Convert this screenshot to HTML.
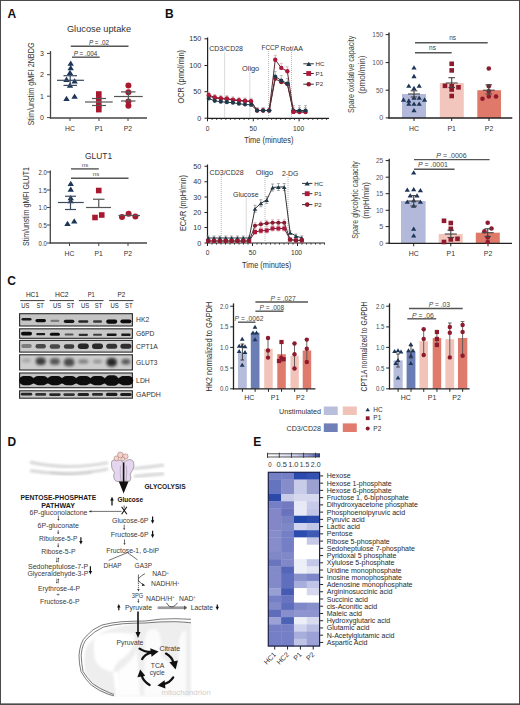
<!DOCTYPE html>
<html><head><meta charset="utf-8"><style>
html,body{margin:0;padding:0;background:#fff;}
body{width:520px;height:705px;overflow:hidden;position:relative;}
svg{position:absolute;left:0;top:0;font-family:"Liberation Sans", sans-serif;}
.frame{position:absolute;left:0;top:0;width:518px;height:703px;border:1px solid #4a4a4a;}
.fb{position:absolute;left:1px;top:703px;width:518px;height:1px;background:#8c8c8c;}
</style></head><body>
<svg width="520" height="705" viewBox="0 0 520 705">
<text x="7.60" y="17.90" font-size="12" text-anchor="start" fill="#111" font-weight="bold">A</text>
<text x="66.90" y="32.30" font-size="9" text-anchor="start" fill="#333" textLength="64.2" lengthAdjust="spacingAndGlyphs">Glucose uptake</text>
<line x1="50.50" y1="51.00" x2="50.50" y2="118.50" stroke="#444" stroke-width="1.3"/>
<line x1="49.90" y1="118.00" x2="147.00" y2="118.00" stroke="#444" stroke-width="1.3"/>
<line x1="47.00" y1="53.40" x2="50.50" y2="53.40" stroke="#444" stroke-width="1"/>
<text x="43.80" y="55.90" font-size="7" text-anchor="end" fill="#333">3</text>
<line x1="47.00" y1="74.70" x2="50.50" y2="74.70" stroke="#444" stroke-width="1"/>
<text x="43.80" y="77.20" font-size="7" text-anchor="end" fill="#333">2</text>
<line x1="47.00" y1="96.20" x2="50.50" y2="96.20" stroke="#444" stroke-width="1"/>
<text x="43.80" y="98.70" font-size="7" text-anchor="end" fill="#333">1</text>
<line x1="47.00" y1="117.60" x2="50.50" y2="117.60" stroke="#444" stroke-width="1"/>
<text x="43.80" y="120.10" font-size="7" text-anchor="end" fill="#333">0</text>
<line x1="70.00" y1="118.00" x2="70.00" y2="121.00" stroke="#444" stroke-width="1"/>
<line x1="99.00" y1="118.00" x2="99.00" y2="121.00" stroke="#444" stroke-width="1"/>
<line x1="128.00" y1="118.00" x2="128.00" y2="121.00" stroke="#444" stroke-width="1"/>
<text x="70.00" y="130.70" font-size="6.8" text-anchor="middle" fill="#333">HC</text>
<text x="99.00" y="130.70" font-size="6.8" text-anchor="middle" fill="#333">P1</text>
<text x="128.00" y="130.70" font-size="6.8" text-anchor="middle" fill="#333">P2</text>
<text x="34.30" y="84.00" font-size="8.2" text-anchor="middle" fill="#333" textLength="83" lengthAdjust="spacingAndGlyphs" transform="rotate(-90 34.30 84.00)">Stim/unstim gMFI 2NBDG</text>
<line x1="70.80" y1="46.20" x2="128.50" y2="46.20" stroke="#555" stroke-width="1.4"/>
<text x="99.00" y="45.00" font-size="6.3" text-anchor="middle" fill="#333"><tspan font-style='italic'>P</tspan> = .02</text>
<line x1="72.00" y1="57.20" x2="99.70" y2="57.20" stroke="#555" stroke-width="1.4"/>
<text x="85.50" y="55.50" font-size="6.3" text-anchor="middle" fill="#333"><tspan font-style='italic'>P</tspan> = .004</text>
<path d="M70.70 60.46L73.90 65.78L67.50 65.78Z" fill="#1d3658"/>
<path d="M70.70 64.96L73.90 70.28L67.50 70.28Z" fill="#1d3658"/>
<path d="M70.00 69.66L73.20 74.98L66.80 74.98Z" fill="#1d3658"/>
<path d="M66.50 76.56L69.70 81.88L63.30 81.88Z" fill="#1d3658"/>
<path d="M74.60 78.16L77.80 83.48L71.40 83.48Z" fill="#1d3658"/>
<path d="M70.00 82.36L73.20 87.68L66.80 87.68Z" fill="#1d3658"/>
<path d="M66.50 95.76L69.70 101.08L63.30 101.08Z" fill="#1d3658"/>
<path d="M74.60 93.46L77.80 98.78L71.40 98.78Z" fill="#1d3658"/>
<line x1="57.00" y1="80.30" x2="84.00" y2="80.30" stroke="#3a4a60" stroke-width="1.2"/>
<line x1="63.50" y1="75.70" x2="77.00" y2="75.70" stroke="#3a4a60" stroke-width="1.2"/>
<line x1="63.50" y1="85.40" x2="77.00" y2="85.40" stroke="#3a4a60" stroke-width="1.2"/>
<line x1="70.20" y1="75.70" x2="70.20" y2="85.40" stroke="#3a4a60" stroke-width="1.2"/>
<rect x="96.00" y="91.20" width="5.60" height="5.60" fill="#a8182f"/>
<rect x="96.00" y="96.20" width="5.60" height="5.60" fill="#a8182f"/>
<rect x="96.00" y="102.20" width="5.60" height="5.60" fill="#a8182f"/>
<rect x="96.00" y="106.80" width="5.60" height="5.60" fill="#a8182f"/>
<line x1="85.00" y1="102.00" x2="112.70" y2="102.00" stroke="#555" stroke-width="1.2"/>
<line x1="92.00" y1="98.50" x2="106.00" y2="98.50" stroke="#555" stroke-width="1.2"/>
<line x1="92.00" y1="105.50" x2="106.00" y2="105.50" stroke="#555" stroke-width="1.2"/>
<circle cx="128.40" cy="85.40" r="3" fill="#a8182f"/>
<circle cx="128.40" cy="92.30" r="3" fill="#a8182f"/>
<circle cx="128.40" cy="101.50" r="3" fill="#a8182f"/>
<circle cx="128.40" cy="105.70" r="3" fill="#a8182f"/>
<line x1="114.00" y1="96.50" x2="142.70" y2="96.50" stroke="#555" stroke-width="1.2"/>
<line x1="121.00" y1="91.90" x2="135.50" y2="91.90" stroke="#555" stroke-width="1.2"/>
<line x1="121.00" y1="101.00" x2="135.50" y2="101.00" stroke="#555" stroke-width="1.2"/>
<line x1="128.40" y1="91.90" x2="128.40" y2="101.00" stroke="#555" stroke-width="1.2"/>
<text x="84.90" y="158.70" font-size="9.6" text-anchor="start" fill="#333" textLength="27.2" lengthAdjust="spacingAndGlyphs">GLUT1</text>
<line x1="50.30" y1="170.50" x2="50.30" y2="243.50" stroke="#444" stroke-width="1.3"/>
<line x1="49.70" y1="243.00" x2="147.00" y2="243.00" stroke="#444" stroke-width="1.3"/>
<line x1="47.00" y1="172.00" x2="50.30" y2="172.00" stroke="#444" stroke-width="1"/>
<text x="46.90" y="174.50" font-size="7" text-anchor="end" fill="#333" textLength="8.3" lengthAdjust="spacingAndGlyphs">2.0</text>
<line x1="47.00" y1="190.00" x2="50.30" y2="190.00" stroke="#444" stroke-width="1"/>
<text x="46.90" y="192.50" font-size="7" text-anchor="end" fill="#333" textLength="8.3" lengthAdjust="spacingAndGlyphs">1.5</text>
<line x1="47.00" y1="207.50" x2="50.30" y2="207.50" stroke="#444" stroke-width="1"/>
<text x="46.90" y="210.00" font-size="7" text-anchor="end" fill="#333" textLength="8.3" lengthAdjust="spacingAndGlyphs">1.0</text>
<line x1="47.00" y1="225.00" x2="50.30" y2="225.00" stroke="#444" stroke-width="1"/>
<text x="46.90" y="227.50" font-size="7" text-anchor="end" fill="#333" textLength="8.3" lengthAdjust="spacingAndGlyphs">0.5</text>
<line x1="47.00" y1="243.00" x2="50.30" y2="243.00" stroke="#444" stroke-width="1"/>
<text x="46.90" y="245.50" font-size="7" text-anchor="end" fill="#333" textLength="8.3" lengthAdjust="spacingAndGlyphs">0.0</text>
<line x1="69.50" y1="243.00" x2="69.50" y2="246.00" stroke="#444" stroke-width="1"/>
<line x1="98.75" y1="243.00" x2="98.75" y2="246.00" stroke="#444" stroke-width="1"/>
<line x1="128.00" y1="243.00" x2="128.00" y2="246.00" stroke="#444" stroke-width="1"/>
<text x="69.50" y="256.30" font-size="6.8" text-anchor="middle" fill="#333">HC</text>
<text x="98.75" y="256.30" font-size="6.8" text-anchor="middle" fill="#333">P1</text>
<text x="128.00" y="256.30" font-size="6.8" text-anchor="middle" fill="#333">P2</text>
<text x="29.30" y="206.50" font-size="8.2" text-anchor="middle" fill="#333" textLength="79" lengthAdjust="spacingAndGlyphs" transform="rotate(-90 29.30 206.50)">Stim/unstim gMFI GLUT1</text>
<line x1="71.00" y1="168.90" x2="98.75" y2="168.90" stroke="#555" stroke-width="1.4"/>
<text x="85.00" y="167.00" font-size="6.2" text-anchor="middle" fill="#555">ns</text>
<line x1="71.00" y1="178.30" x2="128.50" y2="178.30" stroke="#555" stroke-width="1.4"/>
<text x="96.00" y="176.10" font-size="6.2" text-anchor="middle" fill="#555">ns</text>
<path d="M70.75 180.71L73.95 186.03L67.55 186.03Z" fill="#1d3658"/>
<path d="M70.75 186.46L73.95 191.78L67.55 191.78Z" fill="#1d3658"/>
<path d="M70.75 194.96L73.95 200.28L67.55 200.28Z" fill="#1d3658"/>
<path d="M70.75 197.96L73.95 203.28L67.55 203.28Z" fill="#1d3658"/>
<path d="M67.50 220.71L70.70 226.03L64.30 226.03Z" fill="#1d3658"/>
<path d="M74.25 218.21L77.45 223.53L71.05 223.53Z" fill="#1d3658"/>
<line x1="58.00" y1="202.50" x2="83.75" y2="202.50" stroke="#3a4a60" stroke-width="1.2"/>
<line x1="65.00" y1="196.25" x2="76.00" y2="196.25" stroke="#3a4a60" stroke-width="1.2"/>
<line x1="65.00" y1="209.50" x2="76.00" y2="209.50" stroke="#3a4a60" stroke-width="1.2"/>
<line x1="70.50" y1="196.25" x2="70.50" y2="209.50" stroke="#3a4a60" stroke-width="1.2"/>
<rect x="95.95" y="187.70" width="5.60" height="5.60" fill="#a8182f"/>
<rect x="92.20" y="214.70" width="5.60" height="5.60" fill="#a8182f"/>
<rect x="98.95" y="212.20" width="5.60" height="5.60" fill="#a8182f"/>
<line x1="86.00" y1="207.50" x2="111.00" y2="207.50" stroke="#555" stroke-width="1.2"/>
<line x1="93.00" y1="199.25" x2="104.50" y2="199.25" stroke="#555" stroke-width="1.2"/>
<line x1="98.75" y1="199.25" x2="98.75" y2="207.50" stroke="#555" stroke-width="1.2"/>
<circle cx="122.00" cy="217.00" r="3" fill="#a8182f"/>
<circle cx="128.60" cy="213.70" r="3" fill="#a8182f"/>
<circle cx="135.40" cy="216.50" r="3" fill="#a8182f"/>
<line x1="118.50" y1="215.50" x2="140.00" y2="215.50" stroke="#555" stroke-width="1.2"/>
<text x="165.00" y="17.50" font-size="12" text-anchor="start" fill="#111" font-weight="bold">B</text>
<line x1="207.60" y1="37.50" x2="207.60" y2="118.80" stroke="#222" stroke-width="1.2"/>
<line x1="207.00" y1="118.30" x2="329.00" y2="118.30" stroke="#222" stroke-width="1.2"/>
<line x1="204.50" y1="38.80" x2="207.60" y2="38.80" stroke="#222" stroke-width="1"/>
<text x="201.20" y="41.30" font-size="7.2" text-anchor="end" fill="#333">150</text>
<line x1="204.50" y1="65.50" x2="207.60" y2="65.50" stroke="#222" stroke-width="1"/>
<text x="201.20" y="68.00" font-size="7.2" text-anchor="end" fill="#333">100</text>
<line x1="204.50" y1="91.70" x2="207.60" y2="91.70" stroke="#222" stroke-width="1"/>
<text x="201.20" y="94.20" font-size="7.2" text-anchor="end" fill="#333">50</text>
<line x1="204.50" y1="118.20" x2="207.60" y2="118.20" stroke="#222" stroke-width="1"/>
<text x="201.20" y="120.70" font-size="7.2" text-anchor="end" fill="#333">0</text>
<line x1="207.50" y1="118.30" x2="207.50" y2="121.30" stroke="#222" stroke-width="1"/>
<line x1="212.08" y1="118.30" x2="212.08" y2="120.00" stroke="#222" stroke-width="0.8"/>
<line x1="216.66" y1="118.30" x2="216.66" y2="120.00" stroke="#222" stroke-width="0.8"/>
<line x1="221.24" y1="118.30" x2="221.24" y2="120.00" stroke="#222" stroke-width="0.8"/>
<line x1="225.82" y1="118.30" x2="225.82" y2="120.00" stroke="#222" stroke-width="0.8"/>
<line x1="230.40" y1="118.30" x2="230.40" y2="120.00" stroke="#222" stroke-width="0.8"/>
<line x1="234.98" y1="118.30" x2="234.98" y2="120.00" stroke="#222" stroke-width="0.8"/>
<line x1="239.56" y1="118.30" x2="239.56" y2="120.00" stroke="#222" stroke-width="0.8"/>
<line x1="244.14" y1="118.30" x2="244.14" y2="120.00" stroke="#222" stroke-width="0.8"/>
<line x1="248.72" y1="118.30" x2="248.72" y2="120.00" stroke="#222" stroke-width="0.8"/>
<line x1="253.30" y1="118.30" x2="253.30" y2="121.30" stroke="#222" stroke-width="1"/>
<line x1="257.88" y1="118.30" x2="257.88" y2="120.00" stroke="#222" stroke-width="0.8"/>
<line x1="262.46" y1="118.30" x2="262.46" y2="120.00" stroke="#222" stroke-width="0.8"/>
<line x1="267.04" y1="118.30" x2="267.04" y2="120.00" stroke="#222" stroke-width="0.8"/>
<line x1="271.62" y1="118.30" x2="271.62" y2="120.00" stroke="#222" stroke-width="0.8"/>
<line x1="276.20" y1="118.30" x2="276.20" y2="120.00" stroke="#222" stroke-width="0.8"/>
<line x1="280.78" y1="118.30" x2="280.78" y2="120.00" stroke="#222" stroke-width="0.8"/>
<line x1="285.36" y1="118.30" x2="285.36" y2="120.00" stroke="#222" stroke-width="0.8"/>
<line x1="289.94" y1="118.30" x2="289.94" y2="120.00" stroke="#222" stroke-width="0.8"/>
<line x1="294.52" y1="118.30" x2="294.52" y2="120.00" stroke="#222" stroke-width="0.8"/>
<line x1="299.10" y1="118.30" x2="299.10" y2="121.30" stroke="#222" stroke-width="1"/>
<line x1="303.68" y1="118.30" x2="303.68" y2="120.00" stroke="#222" stroke-width="0.8"/>
<line x1="308.26" y1="118.30" x2="308.26" y2="120.00" stroke="#222" stroke-width="0.8"/>
<line x1="312.84" y1="118.30" x2="312.84" y2="120.00" stroke="#222" stroke-width="0.8"/>
<line x1="317.42" y1="118.30" x2="317.42" y2="120.00" stroke="#222" stroke-width="0.8"/>
<line x1="322.00" y1="118.30" x2="322.00" y2="120.00" stroke="#222" stroke-width="0.8"/>
<line x1="326.58" y1="118.30" x2="326.58" y2="120.00" stroke="#222" stroke-width="0.8"/>
<text x="207.50" y="130.70" font-size="6.7" text-anchor="middle" fill="#333">0</text>
<text x="253.30" y="130.70" font-size="6.7" text-anchor="middle" fill="#333">50</text>
<text x="298.60" y="130.70" font-size="6.7" text-anchor="middle" fill="#333">100</text>
<text x="268.80" y="143.30" font-size="8.4" text-anchor="middle" fill="#333" textLength="49.3" lengthAdjust="spacingAndGlyphs">Time (minutes)</text>
<text x="184.20" y="76.70" font-size="9" text-anchor="middle" fill="#333" textLength="53.6" lengthAdjust="spacingAndGlyphs" transform="rotate(-90 184.20 76.70)">OCR (pmol/min)</text>
<line x1="224.60" y1="52.50" x2="224.60" y2="118.00" stroke="#999" stroke-width="0.7" stroke-dasharray="1,1"/>
<line x1="249.80" y1="72.50" x2="249.80" y2="118.00" stroke="#999" stroke-width="0.7" stroke-dasharray="1,1"/>
<line x1="268.60" y1="51.00" x2="268.60" y2="118.00" stroke="#999" stroke-width="0.7" stroke-dasharray="1,1"/>
<line x1="291.50" y1="52.00" x2="291.50" y2="118.00" stroke="#999" stroke-width="0.7" stroke-dasharray="1,1"/>
<text x="209.20" y="50.70" font-size="7.2" text-anchor="start" fill="#333" textLength="33.8" lengthAdjust="spacingAndGlyphs">CD3/CD28</text>
<text x="242.10" y="70.90" font-size="7.2" text-anchor="start" fill="#333" textLength="17.1" lengthAdjust="spacingAndGlyphs">Oligo</text>
<text x="261.50" y="49.90" font-size="7.2" text-anchor="start" fill="#333" textLength="17.4" lengthAdjust="spacingAndGlyphs">FCCP</text>
<text x="280.60" y="51.10" font-size="7.2" text-anchor="start" fill="#333" textLength="22.4" lengthAdjust="spacingAndGlyphs">Rot/AA</text>
<line x1="208.70" y1="95.00" x2="208.70" y2="92.20" stroke="#c9a0a8" stroke-width="0.7"/>
<line x1="207.20" y1="92.20" x2="210.20" y2="92.20" stroke="#c9a0a8" stroke-width="0.7"/>
<line x1="208.70" y1="98.50" x2="208.70" y2="96.00" stroke="#9aa" stroke-width="0.7"/>
<line x1="207.20" y1="96.00" x2="210.20" y2="96.00" stroke="#9aa" stroke-width="0.7"/>
<line x1="214.75" y1="97.30" x2="214.75" y2="94.50" stroke="#c9a0a8" stroke-width="0.7"/>
<line x1="213.25" y1="94.50" x2="216.25" y2="94.50" stroke="#c9a0a8" stroke-width="0.7"/>
<line x1="214.75" y1="100.80" x2="214.75" y2="98.30" stroke="#9aa" stroke-width="0.7"/>
<line x1="213.25" y1="98.30" x2="216.25" y2="98.30" stroke="#9aa" stroke-width="0.7"/>
<line x1="220.80" y1="98.20" x2="220.80" y2="95.40" stroke="#c9a0a8" stroke-width="0.7"/>
<line x1="219.30" y1="95.40" x2="222.30" y2="95.40" stroke="#c9a0a8" stroke-width="0.7"/>
<line x1="220.80" y1="101.70" x2="220.80" y2="99.20" stroke="#9aa" stroke-width="0.7"/>
<line x1="219.30" y1="99.20" x2="222.30" y2="99.20" stroke="#9aa" stroke-width="0.7"/>
<line x1="226.85" y1="98.50" x2="226.85" y2="95.70" stroke="#c9a0a8" stroke-width="0.7"/>
<line x1="225.35" y1="95.70" x2="228.35" y2="95.70" stroke="#c9a0a8" stroke-width="0.7"/>
<line x1="226.85" y1="102.20" x2="226.85" y2="99.70" stroke="#9aa" stroke-width="0.7"/>
<line x1="225.35" y1="99.70" x2="228.35" y2="99.70" stroke="#9aa" stroke-width="0.7"/>
<line x1="232.90" y1="99.60" x2="232.90" y2="96.80" stroke="#c9a0a8" stroke-width="0.7"/>
<line x1="231.40" y1="96.80" x2="234.40" y2="96.80" stroke="#c9a0a8" stroke-width="0.7"/>
<line x1="232.90" y1="102.70" x2="232.90" y2="100.20" stroke="#9aa" stroke-width="0.7"/>
<line x1="231.40" y1="100.20" x2="234.40" y2="100.20" stroke="#9aa" stroke-width="0.7"/>
<line x1="238.95" y1="100.20" x2="238.95" y2="97.40" stroke="#c9a0a8" stroke-width="0.7"/>
<line x1="237.45" y1="97.40" x2="240.45" y2="97.40" stroke="#c9a0a8" stroke-width="0.7"/>
<line x1="238.95" y1="103.70" x2="238.95" y2="101.20" stroke="#9aa" stroke-width="0.7"/>
<line x1="237.45" y1="101.20" x2="240.45" y2="101.20" stroke="#9aa" stroke-width="0.7"/>
<line x1="245.00" y1="100.80" x2="245.00" y2="98.00" stroke="#c9a0a8" stroke-width="0.7"/>
<line x1="243.50" y1="98.00" x2="246.50" y2="98.00" stroke="#c9a0a8" stroke-width="0.7"/>
<line x1="245.00" y1="104.50" x2="245.00" y2="102.00" stroke="#9aa" stroke-width="0.7"/>
<line x1="243.50" y1="102.00" x2="246.50" y2="102.00" stroke="#9aa" stroke-width="0.7"/>
<line x1="251.05" y1="101.10" x2="251.05" y2="98.30" stroke="#c9a0a8" stroke-width="0.7"/>
<line x1="249.55" y1="98.30" x2="252.55" y2="98.30" stroke="#c9a0a8" stroke-width="0.7"/>
<line x1="251.05" y1="104.80" x2="251.05" y2="102.30" stroke="#9aa" stroke-width="0.7"/>
<line x1="249.55" y1="102.30" x2="252.55" y2="102.30" stroke="#9aa" stroke-width="0.7"/>
<line x1="257.10" y1="110.40" x2="257.10" y2="107.60" stroke="#c9a0a8" stroke-width="0.7"/>
<line x1="255.60" y1="107.60" x2="258.60" y2="107.60" stroke="#c9a0a8" stroke-width="0.7"/>
<line x1="257.10" y1="110.50" x2="257.10" y2="108.00" stroke="#9aa" stroke-width="0.7"/>
<line x1="255.60" y1="108.00" x2="258.60" y2="108.00" stroke="#9aa" stroke-width="0.7"/>
<line x1="263.15" y1="110.40" x2="263.15" y2="107.60" stroke="#c9a0a8" stroke-width="0.7"/>
<line x1="261.65" y1="107.60" x2="264.65" y2="107.60" stroke="#c9a0a8" stroke-width="0.7"/>
<line x1="263.15" y1="110.50" x2="263.15" y2="108.00" stroke="#9aa" stroke-width="0.7"/>
<line x1="261.65" y1="108.00" x2="264.65" y2="108.00" stroke="#9aa" stroke-width="0.7"/>
<line x1="269.20" y1="110.40" x2="269.20" y2="107.60" stroke="#c9a0a8" stroke-width="0.7"/>
<line x1="267.70" y1="107.60" x2="270.70" y2="107.60" stroke="#c9a0a8" stroke-width="0.7"/>
<line x1="269.20" y1="110.50" x2="269.20" y2="108.00" stroke="#9aa" stroke-width="0.7"/>
<line x1="267.70" y1="108.00" x2="270.70" y2="108.00" stroke="#9aa" stroke-width="0.7"/>
<line x1="275.25" y1="59.80" x2="275.25" y2="55.30" stroke="#c9a0a8" stroke-width="0.7"/>
<line x1="273.75" y1="55.30" x2="276.75" y2="55.30" stroke="#c9a0a8" stroke-width="0.7"/>
<line x1="275.25" y1="76.50" x2="275.25" y2="71.50" stroke="#9aa" stroke-width="0.7"/>
<line x1="273.75" y1="71.50" x2="276.75" y2="71.50" stroke="#9aa" stroke-width="0.7"/>
<line x1="281.30" y1="67.90" x2="281.30" y2="63.40" stroke="#c9a0a8" stroke-width="0.7"/>
<line x1="279.80" y1="63.40" x2="282.80" y2="63.40" stroke="#c9a0a8" stroke-width="0.7"/>
<line x1="281.30" y1="80.50" x2="281.30" y2="75.50" stroke="#9aa" stroke-width="0.7"/>
<line x1="279.80" y1="75.50" x2="282.80" y2="75.50" stroke="#9aa" stroke-width="0.7"/>
<line x1="287.35" y1="71.30" x2="287.35" y2="66.80" stroke="#c9a0a8" stroke-width="0.7"/>
<line x1="285.85" y1="66.80" x2="288.85" y2="66.80" stroke="#c9a0a8" stroke-width="0.7"/>
<line x1="287.35" y1="83.50" x2="287.35" y2="78.50" stroke="#9aa" stroke-width="0.7"/>
<line x1="285.85" y1="78.50" x2="288.85" y2="78.50" stroke="#9aa" stroke-width="0.7"/>
<line x1="293.40" y1="111.80" x2="293.40" y2="107.30" stroke="#c9a0a8" stroke-width="0.7"/>
<line x1="291.90" y1="107.30" x2="294.90" y2="107.30" stroke="#c9a0a8" stroke-width="0.7"/>
<line x1="293.40" y1="110.50" x2="293.40" y2="105.50" stroke="#9aa" stroke-width="0.7"/>
<line x1="291.90" y1="105.50" x2="294.90" y2="105.50" stroke="#9aa" stroke-width="0.7"/>
<line x1="299.45" y1="112.00" x2="299.45" y2="107.50" stroke="#c9a0a8" stroke-width="0.7"/>
<line x1="297.95" y1="107.50" x2="300.95" y2="107.50" stroke="#c9a0a8" stroke-width="0.7"/>
<line x1="299.45" y1="110.50" x2="299.45" y2="105.50" stroke="#9aa" stroke-width="0.7"/>
<line x1="297.95" y1="105.50" x2="300.95" y2="105.50" stroke="#9aa" stroke-width="0.7"/>
<line x1="305.50" y1="112.00" x2="305.50" y2="107.50" stroke="#c9a0a8" stroke-width="0.7"/>
<line x1="304.00" y1="107.50" x2="307.00" y2="107.50" stroke="#c9a0a8" stroke-width="0.7"/>
<line x1="305.50" y1="110.50" x2="305.50" y2="105.50" stroke="#9aa" stroke-width="0.7"/>
<line x1="304.00" y1="105.50" x2="307.00" y2="105.50" stroke="#9aa" stroke-width="0.7"/>
<polyline points="208.70,98.50 214.75,100.80 220.80,101.70 226.85,102.20 232.90,102.70 238.95,103.70 245.00,104.50 251.05,104.80 257.10,110.50 263.15,110.50 269.20,110.50 275.25,76.50 281.30,80.50 287.35,83.50 293.40,110.50 299.45,110.50 305.50,110.50" fill="none" stroke="#333" stroke-width="1"/>
<polyline points="208.70,96.00 214.75,98.00 220.80,98.80 226.85,99.20 232.90,100.10 238.95,100.80 245.00,101.30 251.05,101.60 257.10,110.60 263.15,110.60 269.20,110.60 275.25,78.80 281.30,82.20 287.35,84.20 293.40,112.00 299.45,112.00 305.50,112.00" fill="none" stroke="#5a2a32" stroke-width="1"/>
<polyline points="208.70,95.00 214.75,97.30 220.80,98.20 226.85,98.50 232.90,99.60 238.95,100.20 245.00,100.80 251.05,101.10 257.10,110.40 263.15,110.40 269.20,110.40 275.25,59.80 281.30,67.90 287.35,71.30 293.40,111.80 299.45,112.00 305.50,112.00" fill="none" stroke="#5a2a32" stroke-width="1"/>
<circle cx="208.70" cy="96.00" r="2.1" fill="#8e1a30"/>
<circle cx="214.75" cy="98.00" r="2.1" fill="#8e1a30"/>
<circle cx="220.80" cy="98.80" r="2.1" fill="#8e1a30"/>
<circle cx="226.85" cy="99.20" r="2.1" fill="#8e1a30"/>
<circle cx="232.90" cy="100.10" r="2.1" fill="#8e1a30"/>
<circle cx="238.95" cy="100.80" r="2.1" fill="#8e1a30"/>
<circle cx="245.00" cy="101.30" r="2.1" fill="#8e1a30"/>
<circle cx="251.05" cy="101.60" r="2.1" fill="#8e1a30"/>
<circle cx="257.10" cy="110.60" r="2.1" fill="#8e1a30"/>
<circle cx="263.15" cy="110.60" r="2.1" fill="#8e1a30"/>
<circle cx="269.20" cy="110.60" r="2.1" fill="#8e1a30"/>
<circle cx="275.25" cy="78.80" r="2.1" fill="#8e1a30"/>
<circle cx="281.30" cy="82.20" r="2.1" fill="#8e1a30"/>
<circle cx="287.35" cy="84.20" r="2.1" fill="#8e1a30"/>
<circle cx="293.40" cy="112.00" r="2.1" fill="#8e1a30"/>
<circle cx="299.45" cy="112.00" r="2.1" fill="#8e1a30"/>
<circle cx="305.50" cy="112.00" r="2.1" fill="#8e1a30"/>
<circle cx="208.70" cy="95.00" r="2.2" fill="#b0173a"/>
<circle cx="214.75" cy="97.30" r="2.2" fill="#b0173a"/>
<circle cx="220.80" cy="98.20" r="2.2" fill="#b0173a"/>
<circle cx="226.85" cy="98.50" r="2.2" fill="#b0173a"/>
<circle cx="232.90" cy="99.60" r="2.2" fill="#b0173a"/>
<circle cx="238.95" cy="100.20" r="2.2" fill="#b0173a"/>
<circle cx="245.00" cy="100.80" r="2.2" fill="#b0173a"/>
<circle cx="251.05" cy="101.10" r="2.2" fill="#b0173a"/>
<circle cx="257.10" cy="110.40" r="2.2" fill="#b0173a"/>
<circle cx="263.15" cy="110.40" r="2.2" fill="#b0173a"/>
<circle cx="269.20" cy="110.40" r="2.2" fill="#b0173a"/>
<circle cx="275.25" cy="59.80" r="2.2" fill="#b0173a"/>
<circle cx="281.30" cy="67.90" r="2.2" fill="#b0173a"/>
<circle cx="287.35" cy="71.30" r="2.2" fill="#b0173a"/>
<circle cx="293.40" cy="111.80" r="2.2" fill="#b0173a"/>
<circle cx="299.45" cy="112.00" r="2.2" fill="#b0173a"/>
<circle cx="305.50" cy="112.00" r="2.2" fill="#b0173a"/>
<circle cx="208.70" cy="98.50" r="2.1" fill="#1d3a4c"/>
<circle cx="214.75" cy="100.80" r="2.1" fill="#1d3a4c"/>
<circle cx="220.80" cy="101.70" r="2.1" fill="#1d3a4c"/>
<circle cx="226.85" cy="102.20" r="2.1" fill="#1d3a4c"/>
<circle cx="232.90" cy="102.70" r="2.1" fill="#1d3a4c"/>
<circle cx="238.95" cy="103.70" r="2.1" fill="#1d3a4c"/>
<circle cx="245.00" cy="104.50" r="2.1" fill="#1d3a4c"/>
<circle cx="251.05" cy="104.80" r="2.1" fill="#1d3a4c"/>
<circle cx="257.10" cy="110.50" r="2.1" fill="#1d3a4c"/>
<circle cx="263.15" cy="110.50" r="2.1" fill="#1d3a4c"/>
<circle cx="269.20" cy="110.50" r="2.1" fill="#1d3a4c"/>
<circle cx="275.25" cy="76.50" r="2.1" fill="#1d3a4c"/>
<circle cx="281.30" cy="80.50" r="2.1" fill="#1d3a4c"/>
<circle cx="287.35" cy="83.50" r="2.1" fill="#1d3a4c"/>
<circle cx="293.40" cy="110.50" r="2.1" fill="#1d3a4c"/>
<circle cx="299.45" cy="110.50" r="2.1" fill="#1d3a4c"/>
<circle cx="305.50" cy="110.50" r="2.1" fill="#1d3a4c"/>
<circle cx="293.40" cy="111.80" r="2.2" fill="#b0173a"/>
<line x1="303.30" y1="63.80" x2="313.80" y2="63.80" stroke="#333" stroke-width="1"/>
<path d="M308.80 61.63L311.40 65.95L306.20 65.95Z" fill="#1d3a4c"/>
<text x="315.60" y="66.00" font-size="6.2" text-anchor="start" fill="#333">HC</text>
<line x1="303.30" y1="73.50" x2="313.80" y2="73.50" stroke="#333" stroke-width="1"/>
<rect x="306.30" y="71.10" width="4.80" height="4.80" fill="#b0173a"/>
<text x="315.60" y="75.70" font-size="6.2" text-anchor="start" fill="#333">P1</text>
<line x1="303.30" y1="84.20" x2="313.80" y2="84.20" stroke="#333" stroke-width="1"/>
<circle cx="308.70" cy="84.20" r="2.3" fill="#8e1a30"/>
<text x="315.60" y="86.40" font-size="6.2" text-anchor="start" fill="#333">P2</text>
<line x1="207.50" y1="164.50" x2="207.50" y2="243.50" stroke="#222" stroke-width="1.2"/>
<line x1="206.90" y1="243.00" x2="325.00" y2="243.00" stroke="#222" stroke-width="1.2"/>
<line x1="204.50" y1="166.25" x2="207.50" y2="166.25" stroke="#222" stroke-width="1"/>
<text x="201.20" y="168.75" font-size="7.2" text-anchor="end" fill="#333">50</text>
<line x1="204.50" y1="181.75" x2="207.50" y2="181.75" stroke="#222" stroke-width="1"/>
<text x="201.20" y="184.25" font-size="7.2" text-anchor="end" fill="#333">40</text>
<line x1="204.50" y1="197.00" x2="207.50" y2="197.00" stroke="#222" stroke-width="1"/>
<text x="201.20" y="199.50" font-size="7.2" text-anchor="end" fill="#333">30</text>
<line x1="204.50" y1="212.50" x2="207.50" y2="212.50" stroke="#222" stroke-width="1"/>
<text x="201.20" y="215.00" font-size="7.2" text-anchor="end" fill="#333">20</text>
<line x1="204.50" y1="227.50" x2="207.50" y2="227.50" stroke="#222" stroke-width="1"/>
<text x="201.20" y="230.00" font-size="7.2" text-anchor="end" fill="#333">10</text>
<line x1="204.50" y1="243.00" x2="207.50" y2="243.00" stroke="#222" stroke-width="1"/>
<text x="201.20" y="245.50" font-size="7.2" text-anchor="end" fill="#333">0</text>
<line x1="207.50" y1="243.00" x2="207.50" y2="246.00" stroke="#222" stroke-width="1"/>
<line x1="212.00" y1="243.00" x2="212.00" y2="244.70" stroke="#222" stroke-width="0.8"/>
<line x1="216.50" y1="243.00" x2="216.50" y2="244.70" stroke="#222" stroke-width="0.8"/>
<line x1="221.00" y1="243.00" x2="221.00" y2="244.70" stroke="#222" stroke-width="0.8"/>
<line x1="225.50" y1="243.00" x2="225.50" y2="244.70" stroke="#222" stroke-width="0.8"/>
<line x1="230.00" y1="243.00" x2="230.00" y2="244.70" stroke="#222" stroke-width="0.8"/>
<line x1="234.50" y1="243.00" x2="234.50" y2="244.70" stroke="#222" stroke-width="0.8"/>
<line x1="239.00" y1="243.00" x2="239.00" y2="244.70" stroke="#222" stroke-width="0.8"/>
<line x1="243.50" y1="243.00" x2="243.50" y2="244.70" stroke="#222" stroke-width="0.8"/>
<line x1="248.00" y1="243.00" x2="248.00" y2="244.70" stroke="#222" stroke-width="0.8"/>
<line x1="252.50" y1="243.00" x2="252.50" y2="246.00" stroke="#222" stroke-width="1"/>
<line x1="257.00" y1="243.00" x2="257.00" y2="244.70" stroke="#222" stroke-width="0.8"/>
<line x1="261.50" y1="243.00" x2="261.50" y2="244.70" stroke="#222" stroke-width="0.8"/>
<line x1="266.00" y1="243.00" x2="266.00" y2="244.70" stroke="#222" stroke-width="0.8"/>
<line x1="270.50" y1="243.00" x2="270.50" y2="244.70" stroke="#222" stroke-width="0.8"/>
<line x1="275.00" y1="243.00" x2="275.00" y2="244.70" stroke="#222" stroke-width="0.8"/>
<line x1="279.50" y1="243.00" x2="279.50" y2="244.70" stroke="#222" stroke-width="0.8"/>
<line x1="284.00" y1="243.00" x2="284.00" y2="244.70" stroke="#222" stroke-width="0.8"/>
<line x1="288.50" y1="243.00" x2="288.50" y2="244.70" stroke="#222" stroke-width="0.8"/>
<line x1="293.00" y1="243.00" x2="293.00" y2="244.70" stroke="#222" stroke-width="0.8"/>
<line x1="297.50" y1="243.00" x2="297.50" y2="246.00" stroke="#222" stroke-width="1"/>
<line x1="302.00" y1="243.00" x2="302.00" y2="244.70" stroke="#222" stroke-width="0.8"/>
<line x1="306.50" y1="243.00" x2="306.50" y2="244.70" stroke="#222" stroke-width="0.8"/>
<line x1="311.00" y1="243.00" x2="311.00" y2="244.70" stroke="#222" stroke-width="0.8"/>
<line x1="315.50" y1="243.00" x2="315.50" y2="244.70" stroke="#222" stroke-width="0.8"/>
<line x1="320.00" y1="243.00" x2="320.00" y2="244.70" stroke="#222" stroke-width="0.8"/>
<line x1="324.50" y1="243.00" x2="324.50" y2="244.70" stroke="#222" stroke-width="0.8"/>
<text x="207.60" y="255.40" font-size="6.7" text-anchor="middle" fill="#333">0</text>
<text x="252.50" y="255.40" font-size="6.7" text-anchor="middle" fill="#333">50</text>
<text x="296.50" y="255.40" font-size="6.7" text-anchor="middle" fill="#333">100</text>
<text x="266.70" y="268.30" font-size="8.4" text-anchor="middle" fill="#333" textLength="49.3" lengthAdjust="spacingAndGlyphs">Time (minutes)</text>
<text x="186.40" y="203.00" font-size="9" text-anchor="middle" fill="#333" textLength="56" lengthAdjust="spacingAndGlyphs" transform="rotate(-90 186.40 203.00)">ECAR (mpH/min)</text>
<line x1="221.25" y1="175.00" x2="221.25" y2="243.00" stroke="#999" stroke-width="0.7" stroke-dasharray="1,1"/>
<line x1="246.25" y1="197.50" x2="246.25" y2="243.00" stroke="#999" stroke-width="0.7" stroke-dasharray="1,1"/>
<line x1="265.00" y1="176.00" x2="265.00" y2="243.00" stroke="#999" stroke-width="0.7" stroke-dasharray="1,1"/>
<line x1="288.00" y1="177.00" x2="288.00" y2="243.00" stroke="#999" stroke-width="0.7" stroke-dasharray="1,1"/>
<text x="209.60" y="174.60" font-size="7.2" text-anchor="start" fill="#333" textLength="34" lengthAdjust="spacingAndGlyphs">CD3/CD28</text>
<text x="233.00" y="196.50" font-size="7.2" text-anchor="start" fill="#333" textLength="25.5" lengthAdjust="spacingAndGlyphs">Glucose</text>
<text x="255.80" y="174.60" font-size="7.2" text-anchor="start" fill="#333" textLength="17.3" lengthAdjust="spacingAndGlyphs">Oligo</text>
<text x="282.00" y="176.00" font-size="7.2" text-anchor="start" fill="#333" textLength="16.4" lengthAdjust="spacingAndGlyphs">2-DG</text>
<line x1="208.20" y1="238.00" x2="208.20" y2="236.00" stroke="#888" stroke-width="0.7"/>
<line x1="206.70" y1="236.00" x2="209.70" y2="236.00" stroke="#888" stroke-width="0.7"/>
<line x1="214.05" y1="238.00" x2="214.05" y2="236.00" stroke="#888" stroke-width="0.7"/>
<line x1="212.55" y1="236.00" x2="215.55" y2="236.00" stroke="#888" stroke-width="0.7"/>
<line x1="219.90" y1="238.00" x2="219.90" y2="236.00" stroke="#888" stroke-width="0.7"/>
<line x1="218.40" y1="236.00" x2="221.40" y2="236.00" stroke="#888" stroke-width="0.7"/>
<line x1="225.75" y1="238.00" x2="225.75" y2="236.00" stroke="#888" stroke-width="0.7"/>
<line x1="224.25" y1="236.00" x2="227.25" y2="236.00" stroke="#888" stroke-width="0.7"/>
<line x1="231.60" y1="238.00" x2="231.60" y2="236.00" stroke="#888" stroke-width="0.7"/>
<line x1="230.10" y1="236.00" x2="233.10" y2="236.00" stroke="#888" stroke-width="0.7"/>
<line x1="237.45" y1="238.00" x2="237.45" y2="236.00" stroke="#888" stroke-width="0.7"/>
<line x1="235.95" y1="236.00" x2="238.95" y2="236.00" stroke="#888" stroke-width="0.7"/>
<line x1="243.30" y1="238.00" x2="243.30" y2="236.00" stroke="#888" stroke-width="0.7"/>
<line x1="241.80" y1="236.00" x2="244.80" y2="236.00" stroke="#888" stroke-width="0.7"/>
<line x1="249.15" y1="238.00" x2="249.15" y2="236.00" stroke="#888" stroke-width="0.7"/>
<line x1="247.65" y1="236.00" x2="250.65" y2="236.00" stroke="#888" stroke-width="0.7"/>
<line x1="255.00" y1="208.75" x2="255.00" y2="205.25" stroke="#888" stroke-width="0.7"/>
<line x1="253.50" y1="205.25" x2="256.50" y2="205.25" stroke="#888" stroke-width="0.7"/>
<line x1="255.00" y1="208.75" x2="255.00" y2="212.25" stroke="#888" stroke-width="0.7"/>
<line x1="253.50" y1="212.25" x2="256.50" y2="212.25" stroke="#888" stroke-width="0.7"/>
<line x1="255.00" y1="225.75" x2="255.00" y2="222.75" stroke="#d0a0a8" stroke-width="0.7"/>
<line x1="253.50" y1="222.75" x2="256.50" y2="222.75" stroke="#d0a0a8" stroke-width="0.7"/>
<line x1="255.00" y1="225.75" x2="255.00" y2="228.75" stroke="#d0a0a8" stroke-width="0.7"/>
<line x1="253.50" y1="228.75" x2="256.50" y2="228.75" stroke="#d0a0a8" stroke-width="0.7"/>
<line x1="255.00" y1="232.00" x2="255.00" y2="229.50" stroke="#d0a0a8" stroke-width="0.7"/>
<line x1="253.50" y1="229.50" x2="256.50" y2="229.50" stroke="#d0a0a8" stroke-width="0.7"/>
<line x1="255.00" y1="232.00" x2="255.00" y2="234.50" stroke="#d0a0a8" stroke-width="0.7"/>
<line x1="253.50" y1="234.50" x2="256.50" y2="234.50" stroke="#d0a0a8" stroke-width="0.7"/>
<line x1="260.85" y1="203.25" x2="260.85" y2="199.75" stroke="#888" stroke-width="0.7"/>
<line x1="259.35" y1="199.75" x2="262.35" y2="199.75" stroke="#888" stroke-width="0.7"/>
<line x1="260.85" y1="203.25" x2="260.85" y2="206.75" stroke="#888" stroke-width="0.7"/>
<line x1="259.35" y1="206.75" x2="262.35" y2="206.75" stroke="#888" stroke-width="0.7"/>
<line x1="260.85" y1="224.25" x2="260.85" y2="221.25" stroke="#d0a0a8" stroke-width="0.7"/>
<line x1="259.35" y1="221.25" x2="262.35" y2="221.25" stroke="#d0a0a8" stroke-width="0.7"/>
<line x1="260.85" y1="224.25" x2="260.85" y2="227.25" stroke="#d0a0a8" stroke-width="0.7"/>
<line x1="259.35" y1="227.25" x2="262.35" y2="227.25" stroke="#d0a0a8" stroke-width="0.7"/>
<line x1="260.85" y1="230.75" x2="260.85" y2="228.25" stroke="#d0a0a8" stroke-width="0.7"/>
<line x1="259.35" y1="228.25" x2="262.35" y2="228.25" stroke="#d0a0a8" stroke-width="0.7"/>
<line x1="260.85" y1="230.75" x2="260.85" y2="233.25" stroke="#d0a0a8" stroke-width="0.7"/>
<line x1="259.35" y1="233.25" x2="262.35" y2="233.25" stroke="#d0a0a8" stroke-width="0.7"/>
<line x1="266.70" y1="200.00" x2="266.70" y2="196.50" stroke="#888" stroke-width="0.7"/>
<line x1="265.20" y1="196.50" x2="268.20" y2="196.50" stroke="#888" stroke-width="0.7"/>
<line x1="266.70" y1="200.00" x2="266.70" y2="203.50" stroke="#888" stroke-width="0.7"/>
<line x1="265.20" y1="203.50" x2="268.20" y2="203.50" stroke="#888" stroke-width="0.7"/>
<line x1="266.70" y1="223.25" x2="266.70" y2="220.25" stroke="#d0a0a8" stroke-width="0.7"/>
<line x1="265.20" y1="220.25" x2="268.20" y2="220.25" stroke="#d0a0a8" stroke-width="0.7"/>
<line x1="266.70" y1="223.25" x2="266.70" y2="226.25" stroke="#d0a0a8" stroke-width="0.7"/>
<line x1="265.20" y1="226.25" x2="268.20" y2="226.25" stroke="#d0a0a8" stroke-width="0.7"/>
<line x1="266.70" y1="230.50" x2="266.70" y2="228.00" stroke="#d0a0a8" stroke-width="0.7"/>
<line x1="265.20" y1="228.00" x2="268.20" y2="228.00" stroke="#d0a0a8" stroke-width="0.7"/>
<line x1="266.70" y1="230.50" x2="266.70" y2="233.00" stroke="#d0a0a8" stroke-width="0.7"/>
<line x1="265.20" y1="233.00" x2="268.20" y2="233.00" stroke="#d0a0a8" stroke-width="0.7"/>
<line x1="272.55" y1="187.50" x2="272.55" y2="184.00" stroke="#888" stroke-width="0.7"/>
<line x1="271.05" y1="184.00" x2="274.05" y2="184.00" stroke="#888" stroke-width="0.7"/>
<line x1="272.55" y1="187.50" x2="272.55" y2="191.00" stroke="#888" stroke-width="0.7"/>
<line x1="271.05" y1="191.00" x2="274.05" y2="191.00" stroke="#888" stroke-width="0.7"/>
<line x1="272.55" y1="222.75" x2="272.55" y2="219.75" stroke="#d0a0a8" stroke-width="0.7"/>
<line x1="271.05" y1="219.75" x2="274.05" y2="219.75" stroke="#d0a0a8" stroke-width="0.7"/>
<line x1="272.55" y1="222.75" x2="272.55" y2="225.75" stroke="#d0a0a8" stroke-width="0.7"/>
<line x1="271.05" y1="225.75" x2="274.05" y2="225.75" stroke="#d0a0a8" stroke-width="0.7"/>
<line x1="272.55" y1="228.50" x2="272.55" y2="226.00" stroke="#d0a0a8" stroke-width="0.7"/>
<line x1="271.05" y1="226.00" x2="274.05" y2="226.00" stroke="#d0a0a8" stroke-width="0.7"/>
<line x1="272.55" y1="228.50" x2="272.55" y2="231.00" stroke="#d0a0a8" stroke-width="0.7"/>
<line x1="271.05" y1="231.00" x2="274.05" y2="231.00" stroke="#d0a0a8" stroke-width="0.7"/>
<line x1="278.40" y1="187.00" x2="278.40" y2="183.50" stroke="#888" stroke-width="0.7"/>
<line x1="276.90" y1="183.50" x2="279.90" y2="183.50" stroke="#888" stroke-width="0.7"/>
<line x1="278.40" y1="187.00" x2="278.40" y2="190.50" stroke="#888" stroke-width="0.7"/>
<line x1="276.90" y1="190.50" x2="279.90" y2="190.50" stroke="#888" stroke-width="0.7"/>
<line x1="278.40" y1="222.75" x2="278.40" y2="219.75" stroke="#d0a0a8" stroke-width="0.7"/>
<line x1="276.90" y1="219.75" x2="279.90" y2="219.75" stroke="#d0a0a8" stroke-width="0.7"/>
<line x1="278.40" y1="222.75" x2="278.40" y2="225.75" stroke="#d0a0a8" stroke-width="0.7"/>
<line x1="276.90" y1="225.75" x2="279.90" y2="225.75" stroke="#d0a0a8" stroke-width="0.7"/>
<line x1="278.40" y1="228.50" x2="278.40" y2="226.00" stroke="#d0a0a8" stroke-width="0.7"/>
<line x1="276.90" y1="226.00" x2="279.90" y2="226.00" stroke="#d0a0a8" stroke-width="0.7"/>
<line x1="278.40" y1="228.50" x2="278.40" y2="231.00" stroke="#d0a0a8" stroke-width="0.7"/>
<line x1="276.90" y1="231.00" x2="279.90" y2="231.00" stroke="#d0a0a8" stroke-width="0.7"/>
<line x1="284.25" y1="187.00" x2="284.25" y2="183.50" stroke="#888" stroke-width="0.7"/>
<line x1="282.75" y1="183.50" x2="285.75" y2="183.50" stroke="#888" stroke-width="0.7"/>
<line x1="284.25" y1="187.00" x2="284.25" y2="190.50" stroke="#888" stroke-width="0.7"/>
<line x1="282.75" y1="190.50" x2="285.75" y2="190.50" stroke="#888" stroke-width="0.7"/>
<line x1="284.25" y1="222.75" x2="284.25" y2="219.75" stroke="#d0a0a8" stroke-width="0.7"/>
<line x1="282.75" y1="219.75" x2="285.75" y2="219.75" stroke="#d0a0a8" stroke-width="0.7"/>
<line x1="284.25" y1="222.75" x2="284.25" y2="225.75" stroke="#d0a0a8" stroke-width="0.7"/>
<line x1="282.75" y1="225.75" x2="285.75" y2="225.75" stroke="#d0a0a8" stroke-width="0.7"/>
<line x1="284.25" y1="228.50" x2="284.25" y2="226.00" stroke="#d0a0a8" stroke-width="0.7"/>
<line x1="282.75" y1="226.00" x2="285.75" y2="226.00" stroke="#d0a0a8" stroke-width="0.7"/>
<line x1="284.25" y1="228.50" x2="284.25" y2="231.00" stroke="#d0a0a8" stroke-width="0.7"/>
<line x1="282.75" y1="231.00" x2="285.75" y2="231.00" stroke="#d0a0a8" stroke-width="0.7"/>
<line x1="290.10" y1="232.70" x2="290.10" y2="230.70" stroke="#888" stroke-width="0.7"/>
<line x1="288.60" y1="230.70" x2="291.60" y2="230.70" stroke="#888" stroke-width="0.7"/>
<line x1="295.95" y1="236.00" x2="295.95" y2="234.00" stroke="#888" stroke-width="0.7"/>
<line x1="294.45" y1="234.00" x2="297.45" y2="234.00" stroke="#888" stroke-width="0.7"/>
<line x1="301.80" y1="237.90" x2="301.80" y2="235.90" stroke="#888" stroke-width="0.7"/>
<line x1="300.30" y1="235.90" x2="303.30" y2="235.90" stroke="#888" stroke-width="0.7"/>
<polyline points="208.20,238.00 214.05,238.00 219.90,238.00 225.75,238.00 231.60,238.00 237.45,238.00 243.30,238.00 249.15,238.00 255.00,208.75 260.85,203.25 266.70,200.00 272.55,187.50 278.40,187.00 284.25,187.00 290.10,232.70 295.95,236.00 301.80,237.90" fill="none" stroke="#333" stroke-width="1"/>
<polyline points="208.20,241.00 214.05,241.00 219.90,241.00 225.75,241.00 231.60,241.00 237.45,241.00 243.30,241.00 249.15,241.00 255.00,232.00 260.85,230.75 266.70,230.50 272.55,228.50 278.40,228.50 284.25,228.50 290.10,239.60 295.95,240.40 301.80,240.40" fill="none" stroke="#5a2a32" stroke-width="1"/>
<polyline points="208.20,241.00 214.05,241.00 219.90,241.00 225.75,241.00 231.60,241.00 237.45,241.00 243.30,241.00 249.15,241.00 255.00,225.75 260.85,224.25 266.70,223.25 272.55,222.75 278.40,222.75 284.25,222.75 290.10,239.60 295.95,240.40 301.80,240.40" fill="none" stroke="#5a2a32" stroke-width="1"/>
<path d="M208.20 236.22L210.50 240.04L205.90 240.04Z" fill="#1d3a4c"/>
<path d="M214.05 236.22L216.35 240.04L211.75 240.04Z" fill="#1d3a4c"/>
<path d="M219.90 236.22L222.20 240.04L217.60 240.04Z" fill="#1d3a4c"/>
<path d="M225.75 236.22L228.05 240.04L223.45 240.04Z" fill="#1d3a4c"/>
<path d="M231.60 236.22L233.90 240.04L229.30 240.04Z" fill="#1d3a4c"/>
<path d="M237.45 236.22L239.75 240.04L235.15 240.04Z" fill="#1d3a4c"/>
<path d="M243.30 236.22L245.60 240.04L241.00 240.04Z" fill="#1d3a4c"/>
<path d="M249.15 236.22L251.45 240.04L246.85 240.04Z" fill="#1d3a4c"/>
<path d="M255.00 206.97L257.30 210.79L252.70 210.79Z" fill="#1d3a4c"/>
<path d="M260.85 201.47L263.15 205.29L258.55 205.29Z" fill="#1d3a4c"/>
<path d="M266.70 198.22L269.00 202.04L264.40 202.04Z" fill="#1d3a4c"/>
<path d="M272.55 185.72L274.85 189.54L270.25 189.54Z" fill="#1d3a4c"/>
<path d="M278.40 185.22L280.70 189.04L276.10 189.04Z" fill="#1d3a4c"/>
<path d="M284.25 185.22L286.55 189.04L281.95 189.04Z" fill="#1d3a4c"/>
<path d="M290.10 230.91L292.40 234.74L287.80 234.74Z" fill="#1d3a4c"/>
<path d="M295.95 234.22L298.25 238.04L293.65 238.04Z" fill="#1d3a4c"/>
<path d="M301.80 236.12L304.10 239.94L299.50 239.94Z" fill="#1d3a4c"/>
<rect x="206.20" y="239.00" width="4.00" height="4.00" fill="#b0173a"/>
<rect x="212.05" y="239.00" width="4.00" height="4.00" fill="#b0173a"/>
<rect x="217.90" y="239.00" width="4.00" height="4.00" fill="#b0173a"/>
<rect x="223.75" y="239.00" width="4.00" height="4.00" fill="#b0173a"/>
<rect x="229.60" y="239.00" width="4.00" height="4.00" fill="#b0173a"/>
<rect x="235.45" y="239.00" width="4.00" height="4.00" fill="#b0173a"/>
<rect x="241.30" y="239.00" width="4.00" height="4.00" fill="#b0173a"/>
<rect x="247.15" y="239.00" width="4.00" height="4.00" fill="#b0173a"/>
<rect x="253.00" y="230.00" width="4.00" height="4.00" fill="#b0173a"/>
<rect x="258.85" y="228.75" width="4.00" height="4.00" fill="#b0173a"/>
<rect x="264.70" y="228.50" width="4.00" height="4.00" fill="#b0173a"/>
<rect x="270.55" y="226.50" width="4.00" height="4.00" fill="#b0173a"/>
<rect x="276.40" y="226.50" width="4.00" height="4.00" fill="#b0173a"/>
<rect x="282.25" y="226.50" width="4.00" height="4.00" fill="#b0173a"/>
<rect x="288.10" y="237.60" width="4.00" height="4.00" fill="#b0173a"/>
<rect x="293.95" y="238.40" width="4.00" height="4.00" fill="#b0173a"/>
<rect x="299.80" y="238.40" width="4.00" height="4.00" fill="#b0173a"/>
<circle cx="208.20" cy="241.00" r="2.1" fill="#8e1a30"/>
<circle cx="214.05" cy="241.00" r="2.1" fill="#8e1a30"/>
<circle cx="219.90" cy="241.00" r="2.1" fill="#8e1a30"/>
<circle cx="225.75" cy="241.00" r="2.1" fill="#8e1a30"/>
<circle cx="231.60" cy="241.00" r="2.1" fill="#8e1a30"/>
<circle cx="237.45" cy="241.00" r="2.1" fill="#8e1a30"/>
<circle cx="243.30" cy="241.00" r="2.1" fill="#8e1a30"/>
<circle cx="249.15" cy="241.00" r="2.1" fill="#8e1a30"/>
<circle cx="255.00" cy="225.75" r="2.1" fill="#8e1a30"/>
<circle cx="260.85" cy="224.25" r="2.1" fill="#8e1a30"/>
<circle cx="266.70" cy="223.25" r="2.1" fill="#8e1a30"/>
<circle cx="272.55" cy="222.75" r="2.1" fill="#8e1a30"/>
<circle cx="278.40" cy="222.75" r="2.1" fill="#8e1a30"/>
<circle cx="284.25" cy="222.75" r="2.1" fill="#8e1a30"/>
<circle cx="290.10" cy="239.60" r="2.1" fill="#8e1a30"/>
<circle cx="295.95" cy="240.40" r="2.1" fill="#8e1a30"/>
<circle cx="301.80" cy="240.40" r="2.1" fill="#8e1a30"/>
<line x1="302.00" y1="183.40" x2="312.40" y2="183.40" stroke="#333" stroke-width="1"/>
<path d="M307.20 181.23L309.80 185.55L304.60 185.55Z" fill="#1d3a4c"/>
<text x="314.20" y="185.60" font-size="6.2" text-anchor="start" fill="#333">HC</text>
<line x1="302.00" y1="193.70" x2="312.40" y2="193.70" stroke="#333" stroke-width="1"/>
<rect x="304.80" y="191.30" width="4.80" height="4.80" fill="#b0173a"/>
<text x="314.20" y="195.90" font-size="6.2" text-anchor="start" fill="#333">P1</text>
<line x1="302.00" y1="204.60" x2="312.40" y2="204.60" stroke="#333" stroke-width="1"/>
<circle cx="307.20" cy="204.60" r="2.3" fill="#8e1a30"/>
<text x="314.20" y="206.80" font-size="6.2" text-anchor="start" fill="#333">P2</text>
<rect x="402.00" y="94.00" width="24.00" height="24.00" fill="#b3b9da"/>
<rect x="439.80" y="83.00" width="24.00" height="35.00" fill="#f2c6bc"/>
<rect x="477.30" y="90.20" width="23.70" height="27.80" fill="#df7a6a"/>
<line x1="389.00" y1="32.50" x2="389.00" y2="118.60" stroke="#222" stroke-width="1.3"/>
<line x1="388.40" y1="118.00" x2="512.30" y2="118.00" stroke="#222" stroke-width="1.3"/>
<line x1="385.70" y1="34.60" x2="389.00" y2="34.60" stroke="#222" stroke-width="1"/>
<text x="383.30" y="37.10" font-size="7.2" text-anchor="end" fill="#555" textLength="11.01" lengthAdjust="spacingAndGlyphs">150</text>
<line x1="385.70" y1="62.60" x2="389.00" y2="62.60" stroke="#222" stroke-width="1"/>
<text x="383.30" y="65.10" font-size="7.2" text-anchor="end" fill="#555" textLength="11.01" lengthAdjust="spacingAndGlyphs">100</text>
<line x1="385.70" y1="90.20" x2="389.00" y2="90.20" stroke="#222" stroke-width="1"/>
<text x="383.30" y="92.70" font-size="7.2" text-anchor="end" fill="#555" textLength="7.34" lengthAdjust="spacingAndGlyphs">50</text>
<line x1="385.70" y1="117.90" x2="389.00" y2="117.90" stroke="#222" stroke-width="1"/>
<text x="383.30" y="120.40" font-size="7.2" text-anchor="end" fill="#555">0</text>
<line x1="414.00" y1="118.00" x2="414.00" y2="121.00" stroke="#222" stroke-width="1"/>
<line x1="451.70" y1="118.00" x2="451.70" y2="121.00" stroke="#222" stroke-width="1"/>
<line x1="489.00" y1="118.00" x2="489.00" y2="121.00" stroke="#222" stroke-width="1"/>
<text x="414.00" y="131.10" font-size="6.9" text-anchor="middle" fill="#333">HC</text>
<text x="451.70" y="131.10" font-size="6.9" text-anchor="middle" fill="#333">P1</text>
<text x="489.00" y="131.10" font-size="6.9" text-anchor="middle" fill="#333">P2</text>
<text x="354.20" y="74.30" font-size="8.8" text-anchor="middle" fill="#444" textLength="77.4" lengthAdjust="spacingAndGlyphs" transform="rotate(-90 354.20 74.30)">Spare oxidative capacity</text>
<text x="365.20" y="74.60" font-size="8.8" text-anchor="middle" fill="#444" textLength="38.3" lengthAdjust="spacingAndGlyphs" transform="rotate(-90 365.20 74.60)">(pmol/min)</text>
<line x1="415.00" y1="42.70" x2="487.70" y2="42.70" stroke="#555" stroke-width="1.4"/>
<text x="452.70" y="39.60" font-size="6.5" text-anchor="middle" fill="#444">ns</text>
<line x1="415.00" y1="52.70" x2="451.70" y2="52.70" stroke="#555" stroke-width="1.4"/>
<text x="432.50" y="49.80" font-size="6.5" text-anchor="middle" fill="#444">ns</text>
<path d="M414.00 65.23L416.60 69.55L411.40 69.55Z" fill="#1d3658"/>
<path d="M414.00 73.83L416.60 78.15L411.40 78.15Z" fill="#1d3658"/>
<path d="M408.80 83.53L411.40 87.85L406.20 87.85Z" fill="#1d3658"/>
<path d="M414.00 85.83L416.60 90.15L411.40 90.15Z" fill="#1d3658"/>
<path d="M419.20 83.53L421.80 87.85L416.60 87.85Z" fill="#1d3658"/>
<path d="M403.50 97.33L406.10 101.65L400.90 101.65Z" fill="#1d3658"/>
<path d="M408.80 98.33L411.40 102.65L406.20 102.65Z" fill="#1d3658"/>
<path d="M414.00 95.43L416.60 99.75L411.40 99.75Z" fill="#1d3658"/>
<path d="M419.20 95.43L421.80 99.75L416.60 99.75Z" fill="#1d3658"/>
<path d="M424.60 97.33L427.20 101.65L422.00 101.65Z" fill="#1d3658"/>
<path d="M408.80 101.53L411.40 105.85L406.20 105.85Z" fill="#1d3658"/>
<path d="M419.20 101.53L421.80 105.85L416.60 105.85Z" fill="#1d3658"/>
<path d="M414.00 101.53L416.60 105.85L411.40 105.85Z" fill="#1d3658"/>
<path d="M414.00 107.93L416.60 112.25L411.40 112.25Z" fill="#1d3658"/>
<line x1="408.00" y1="94.00" x2="420.00" y2="94.00" stroke="#444" stroke-width="1.1"/>
<line x1="410.70" y1="90.80" x2="417.30" y2="90.80" stroke="#444" stroke-width="1.1"/>
<line x1="410.70" y1="97.00" x2="417.30" y2="97.00" stroke="#444" stroke-width="1.1"/>
<line x1="414.00" y1="90.80" x2="414.00" y2="97.00" stroke="#444" stroke-width="1.1"/>
<rect x="449.40" y="61.50" width="4.60" height="4.60" fill="#8e1a2e"/>
<rect x="449.40" y="68.10" width="4.60" height="4.60" fill="#8e1a2e"/>
<rect x="442.70" y="83.50" width="4.60" height="4.60" fill="#8e1a2e"/>
<rect x="449.40" y="84.00" width="4.60" height="4.60" fill="#8e1a2e"/>
<rect x="456.20" y="85.00" width="4.60" height="4.60" fill="#8e1a2e"/>
<rect x="449.40" y="87.20" width="4.60" height="4.60" fill="#8e1a2e"/>
<rect x="449.40" y="93.70" width="4.60" height="4.60" fill="#8e1a2e"/>
<line x1="445.70" y1="83.00" x2="457.70" y2="83.00" stroke="#444" stroke-width="1.1"/>
<line x1="448.40" y1="77.70" x2="455.00" y2="77.70" stroke="#444" stroke-width="1.1"/>
<line x1="448.40" y1="87.50" x2="455.00" y2="87.50" stroke="#444" stroke-width="1.1"/>
<line x1="451.70" y1="77.70" x2="451.70" y2="87.50" stroke="#444" stroke-width="1.1"/>
<circle cx="488.80" cy="68.50" r="2.3" fill="#8e1a2e"/>
<circle cx="488.80" cy="86.30" r="2.3" fill="#8e1a2e"/>
<circle cx="488.80" cy="91.20" r="2.3" fill="#8e1a2e"/>
<circle cx="482.50" cy="98.80" r="2.3" fill="#8e1a2e"/>
<circle cx="488.80" cy="96.50" r="2.3" fill="#8e1a2e"/>
<circle cx="496.00" cy="96.50" r="2.3" fill="#8e1a2e"/>
<line x1="482.80" y1="90.20" x2="494.80" y2="90.20" stroke="#444" stroke-width="1.1"/>
<line x1="485.50" y1="84.80" x2="492.10" y2="84.80" stroke="#444" stroke-width="1.1"/>
<line x1="485.50" y1="94.00" x2="492.10" y2="94.00" stroke="#444" stroke-width="1.1"/>
<line x1="488.80" y1="84.80" x2="488.80" y2="94.00" stroke="#444" stroke-width="1.1"/>
<rect x="401.00" y="201.00" width="24.60" height="42.30" fill="#b3b9da"/>
<rect x="438.70" y="234.00" width="24.00" height="9.30" fill="#f2c6bc"/>
<rect x="475.80" y="232.70" width="24.00" height="10.60" fill="#df7a6a"/>
<line x1="389.20" y1="158.70" x2="389.20" y2="243.90" stroke="#222" stroke-width="1.3"/>
<line x1="388.60" y1="243.30" x2="512.00" y2="243.30" stroke="#222" stroke-width="1.3"/>
<line x1="385.70" y1="160.60" x2="389.20" y2="160.60" stroke="#222" stroke-width="1"/>
<text x="383.30" y="163.10" font-size="7.2" text-anchor="end" fill="#555" textLength="7.34" lengthAdjust="spacingAndGlyphs">25</text>
<line x1="385.70" y1="177.20" x2="389.20" y2="177.20" stroke="#222" stroke-width="1"/>
<text x="383.30" y="179.70" font-size="7.2" text-anchor="end" fill="#555" textLength="7.34" lengthAdjust="spacingAndGlyphs">20</text>
<line x1="385.70" y1="193.70" x2="389.20" y2="193.70" stroke="#222" stroke-width="1"/>
<text x="383.30" y="196.20" font-size="7.2" text-anchor="end" fill="#555" textLength="7.34" lengthAdjust="spacingAndGlyphs">15</text>
<line x1="385.70" y1="210.30" x2="389.20" y2="210.30" stroke="#222" stroke-width="1"/>
<text x="383.30" y="212.80" font-size="7.2" text-anchor="end" fill="#555" textLength="7.34" lengthAdjust="spacingAndGlyphs">10</text>
<line x1="385.70" y1="226.60" x2="389.20" y2="226.60" stroke="#222" stroke-width="1"/>
<text x="383.30" y="229.10" font-size="7.2" text-anchor="end" fill="#555">5</text>
<line x1="385.70" y1="243.20" x2="389.20" y2="243.20" stroke="#222" stroke-width="1"/>
<text x="383.30" y="245.70" font-size="7.2" text-anchor="end" fill="#555">0</text>
<line x1="413.70" y1="243.30" x2="413.70" y2="246.30" stroke="#222" stroke-width="1"/>
<line x1="450.80" y1="243.30" x2="450.80" y2="246.30" stroke="#222" stroke-width="1"/>
<line x1="488.00" y1="243.30" x2="488.00" y2="246.30" stroke="#222" stroke-width="1"/>
<text x="413.70" y="255.90" font-size="6.9" text-anchor="middle" fill="#333">HC</text>
<text x="450.80" y="255.90" font-size="6.9" text-anchor="middle" fill="#333">P1</text>
<text x="488.00" y="255.90" font-size="6.9" text-anchor="middle" fill="#333">P2</text>
<text x="358.20" y="200.00" font-size="8.8" text-anchor="middle" fill="#444" textLength="77.4" lengthAdjust="spacingAndGlyphs" transform="rotate(-90 358.20 200.00)">Spare glycolytic capacity</text>
<text x="369.00" y="200.40" font-size="8.8" text-anchor="middle" fill="#444" textLength="36.8" lengthAdjust="spacingAndGlyphs" transform="rotate(-90 369.00 200.40)">(mpH/min)</text>
<line x1="414.00" y1="159.60" x2="489.60" y2="159.60" stroke="#555" stroke-width="1.4"/>
<text x="451.50" y="158.20" font-size="6.5" text-anchor="middle" fill="#444" textLength="30.4" lengthAdjust="spacingAndGlyphs"><tspan font-style='italic'>P</tspan> = .0006</text>
<line x1="414.00" y1="169.20" x2="454.60" y2="169.20" stroke="#555" stroke-width="1.4"/>
<text x="433.00" y="167.30" font-size="6.5" text-anchor="middle" fill="#444" textLength="30" lengthAdjust="spacingAndGlyphs"><tspan font-style='italic'>P</tspan> = .0001</text>
<path d="M413.70 170.23L416.30 174.55L411.10 174.55Z" fill="#1d3658"/>
<path d="M407.30 187.53L409.90 191.85L404.70 191.85Z" fill="#1d3658"/>
<path d="M413.70 186.93L416.30 191.25L411.10 191.25Z" fill="#1d3658"/>
<path d="M420.40 187.93L423.00 192.25L417.80 192.25Z" fill="#1d3658"/>
<path d="M410.20 193.13L412.80 197.45L407.60 197.45Z" fill="#1d3658"/>
<path d="M417.00 193.13L419.60 197.45L414.40 197.45Z" fill="#1d3658"/>
<path d="M407.30 199.53L409.90 203.85L404.70 203.85Z" fill="#1d3658"/>
<path d="M413.70 197.93L416.30 202.25L411.10 202.25Z" fill="#1d3658"/>
<path d="M420.40 199.53L423.00 203.85L417.80 203.85Z" fill="#1d3658"/>
<path d="M413.70 203.53L416.30 207.85L411.10 207.85Z" fill="#1d3658"/>
<path d="M413.70 226.53L416.30 230.85L411.10 230.85Z" fill="#1d3658"/>
<path d="M413.70 233.13L416.30 237.45L411.10 237.45Z" fill="#1d3658"/>
<line x1="407.70" y1="201.00" x2="419.70" y2="201.00" stroke="#444" stroke-width="1.1"/>
<line x1="410.40" y1="195.60" x2="417.00" y2="195.60" stroke="#444" stroke-width="1.1"/>
<line x1="410.40" y1="206.00" x2="417.00" y2="206.00" stroke="#444" stroke-width="1.1"/>
<line x1="413.70" y1="195.60" x2="413.70" y2="206.00" stroke="#444" stroke-width="1.1"/>
<rect x="441.70" y="218.50" width="4.60" height="4.60" fill="#8e1a2e"/>
<rect x="448.50" y="220.70" width="4.60" height="4.60" fill="#8e1a2e"/>
<rect x="448.50" y="226.50" width="4.60" height="4.60" fill="#8e1a2e"/>
<rect x="448.50" y="237.10" width="4.60" height="4.60" fill="#8e1a2e"/>
<rect x="455.20" y="236.50" width="4.60" height="4.60" fill="#8e1a2e"/>
<rect x="441.70" y="239.70" width="4.60" height="4.60" fill="#8e1a2e"/>
<line x1="444.80" y1="234.00" x2="456.80" y2="234.00" stroke="#444" stroke-width="1.1"/>
<line x1="447.50" y1="230.20" x2="454.10" y2="230.20" stroke="#444" stroke-width="1.1"/>
<line x1="447.50" y1="237.50" x2="454.10" y2="237.50" stroke="#444" stroke-width="1.1"/>
<line x1="450.80" y1="230.20" x2="450.80" y2="237.50" stroke="#444" stroke-width="1.1"/>
<circle cx="487.70" cy="222.70" r="2.3" fill="#8e1a2e"/>
<circle cx="491.50" cy="228.50" r="2.3" fill="#8e1a2e"/>
<circle cx="484.40" cy="231.20" r="2.3" fill="#8e1a2e"/>
<circle cx="487.70" cy="237.50" r="2.3" fill="#8e1a2e"/>
<circle cx="487.70" cy="242.00" r="2.3" fill="#8e1a2e"/>
<line x1="481.70" y1="232.70" x2="493.70" y2="232.70" stroke="#444" stroke-width="1.1"/>
<line x1="484.40" y1="228.80" x2="491.00" y2="228.80" stroke="#444" stroke-width="1.1"/>
<line x1="484.40" y1="236.50" x2="491.00" y2="236.50" stroke="#444" stroke-width="1.1"/>
<line x1="487.70" y1="228.80" x2="487.70" y2="236.50" stroke="#444" stroke-width="1.1"/>
<text x="7.30" y="285.20" font-size="12" text-anchor="start" fill="#111" font-weight="bold">C</text>
<defs><filter id="bl1" x="-50%" y="-50%" width="200%" height="200%"><feGaussianBlur stdDeviation="0.7"/></filter><filter id="bl2" x="-50%" y="-50%" width="200%" height="200%"><feGaussianBlur stdDeviation="1.4"/></filter></defs>
<text x="32.40" y="297.30" font-size="7.4" text-anchor="middle" fill="#222" textLength="13" lengthAdjust="spacingAndGlyphs">HC1</text>
<line x1="20.20" y1="300.60" x2="44.60" y2="300.60" stroke="#222" stroke-width="0.9"/>
<text x="61.80" y="297.30" font-size="7.4" text-anchor="middle" fill="#222" textLength="13.5" lengthAdjust="spacingAndGlyphs">HC2</text>
<line x1="49.60" y1="300.60" x2="74.00" y2="300.60" stroke="#222" stroke-width="0.9"/>
<text x="91.15" y="297.30" font-size="7.4" text-anchor="middle" fill="#222" textLength="7" lengthAdjust="spacingAndGlyphs">P1</text>
<line x1="78.80" y1="300.60" x2="103.50" y2="300.60" stroke="#222" stroke-width="0.9"/>
<text x="121.35" y="297.30" font-size="7.4" text-anchor="middle" fill="#222" textLength="7.7" lengthAdjust="spacingAndGlyphs">P2</text>
<line x1="109.20" y1="300.60" x2="133.50" y2="300.60" stroke="#222" stroke-width="0.9"/>
<text x="25.30" y="308.40" font-size="7.2" text-anchor="middle" fill="#222" textLength="8.2" lengthAdjust="spacingAndGlyphs">US</text>
<text x="40.20" y="308.40" font-size="7.2" text-anchor="middle" fill="#222" textLength="7.4" lengthAdjust="spacingAndGlyphs">ST</text>
<text x="57.20" y="308.40" font-size="7.2" text-anchor="middle" fill="#222" textLength="8.2" lengthAdjust="spacingAndGlyphs">US</text>
<text x="70.50" y="308.40" font-size="7.2" text-anchor="middle" fill="#222" textLength="7.4" lengthAdjust="spacingAndGlyphs">ST</text>
<text x="85.10" y="308.40" font-size="7.2" text-anchor="middle" fill="#222" textLength="8.2" lengthAdjust="spacingAndGlyphs">US</text>
<text x="98.50" y="308.40" font-size="7.2" text-anchor="middle" fill="#222" textLength="7.4" lengthAdjust="spacingAndGlyphs">ST</text>
<text x="114.70" y="308.40" font-size="7.2" text-anchor="middle" fill="#222" textLength="8.2" lengthAdjust="spacingAndGlyphs">US</text>
<text x="128.80" y="308.40" font-size="7.2" text-anchor="middle" fill="#222" textLength="7.4" lengthAdjust="spacingAndGlyphs">ST</text>
<rect x="19.6" y="313.70" width="112.8" height="12.30" fill="#c4c4c4" stroke="#2a2a2a" stroke-width="1.1"/>
<rect x="19.6" y="328.80" width="112.8" height="9.50" fill="#c8c8c8" stroke="#2a2a2a" stroke-width="1.1"/>
<rect x="19.6" y="340.40" width="112.8" height="11.70" fill="#cacaca" stroke="#2a2a2a" stroke-width="1.1"/>
<rect x="19.6" y="354.80" width="112.8" height="15.20" fill="#cdcdcd" stroke="#2a2a2a" stroke-width="1.1"/>
<rect x="19.6" y="373.00" width="112.8" height="14.70" fill="#c2c2c2" stroke="#2a2a2a" stroke-width="1.1"/>
<rect x="19.6" y="390.80" width="112.8" height="7.40" fill="#c6c6c6" stroke="#2a2a2a" stroke-width="1.1"/>
<rect x="21.50" y="318.00" width="10.00" height="2.60" rx="1.30" fill="#1c1c1c" fill-opacity="1.0" filter="url(#bl1)"/>
<rect x="35.45" y="319.00" width="10.50" height="3.20" rx="1.60" fill="#0e0e0e" fill-opacity="1.0" filter="url(#bl1)"/>
<rect x="50.40" y="319.70" width="9.00" height="2.20" rx="1.10" fill="#7a7a7a" fill-opacity="1.0" filter="url(#bl1)"/>
<rect x="63.85" y="319.70" width="10.50" height="3.20" rx="1.60" fill="#141414" fill-opacity="1.0" filter="url(#bl1)"/>
<rect x="78.30" y="320.20" width="10.00" height="2.60" rx="1.30" fill="#262626" fill-opacity="1.0" filter="url(#bl1)"/>
<rect x="93.00" y="320.30" width="9.00" height="2.40" rx="1.20" fill="#3a3a3a" fill-opacity="1.0" filter="url(#bl1)"/>
<rect x="106.20" y="319.50" width="11.00" height="4.20" rx="2.10" fill="#0a0a0a" fill-opacity="1.0" filter="url(#bl1)"/>
<rect x="120.40" y="319.40" width="11.00" height="3.80" rx="1.90" fill="#0a0a0a" fill-opacity="1.0" filter="url(#bl1)"/>
<rect x="21.00" y="331.70" width="11.00" height="3.80" rx="1.90" fill="#0a0a0a" fill-opacity="1.0" filter="url(#bl1)"/>
<rect x="36.20" y="333.10" width="9.00" height="2.20" rx="1.10" fill="#1e1e1e" fill-opacity="1.0" filter="url(#bl1)"/>
<rect x="49.90" y="332.70" width="10.00" height="3.00" rx="1.50" fill="#0e0e0e" fill-opacity="1.0" filter="url(#bl1)"/>
<rect x="64.60" y="333.60" width="9.00" height="2.00" rx="1.00" fill="#555" fill-opacity="1.0" filter="url(#bl1)"/>
<rect x="78.55" y="333.70" width="9.50" height="2.20" rx="1.10" fill="#2e2e2e" fill-opacity="1.0" filter="url(#bl1)"/>
<rect x="93.00" y="333.80" width="9.00" height="2.00" rx="1.00" fill="#3c3c3c" fill-opacity="1.0" filter="url(#bl1)"/>
<rect x="106.70" y="333.50" width="10.00" height="2.60" rx="1.30" fill="#141414" fill-opacity="1.0" filter="url(#bl1)"/>
<rect x="121.15" y="333.60" width="9.50" height="2.40" rx="1.20" fill="#1c1c1c" fill-opacity="1.0" filter="url(#bl1)"/>
<rect x="21.25" y="344.00" width="10.50" height="4.00" rx="2.00" fill="#7d7d7d" fill-opacity="1.0" filter="url(#bl1)"/>
<rect x="35.45" y="343.95" width="10.50" height="4.50" rx="2.25" fill="#4a4a4a" fill-opacity="1.0" filter="url(#bl1)"/>
<rect x="49.65" y="344.15" width="10.50" height="4.50" rx="2.25" fill="#484848" fill-opacity="1.0" filter="url(#bl1)"/>
<rect x="63.85" y="344.15" width="10.50" height="4.50" rx="2.25" fill="#3e3e3e" fill-opacity="1.0" filter="url(#bl1)"/>
<rect x="77.80" y="343.55" width="11.00" height="5.50" rx="2.75" fill="#262626" fill-opacity="1.0" filter="url(#bl1)"/>
<rect x="92.00" y="343.55" width="11.00" height="5.50" rx="2.75" fill="#2a2a2a" fill-opacity="1.0" filter="url(#bl1)"/>
<rect x="106.20" y="343.80" width="11.00" height="5.00" rx="2.50" fill="#333" fill-opacity="1.0" filter="url(#bl1)"/>
<rect x="120.40" y="343.80" width="11.00" height="5.00" rx="2.50" fill="#2e2e2e" fill-opacity="1.0" filter="url(#bl1)"/>
<rect x="22.00" y="358.50" width="9.00" height="4.00" rx="2.00" fill="#a6a6a6" fill-opacity="1.0" filter="url(#bl2)"/>
<rect x="35.70" y="357.45" width="10.00" height="7.50" rx="3.75" fill="#3a3a3a" fill-opacity="1.0" filter="url(#bl2)"/>
<rect x="49.90" y="358.25" width="10.00" height="6.50" rx="3.25" fill="#555" fill-opacity="1.0" filter="url(#bl2)"/>
<rect x="63.85" y="358.30" width="10.50" height="8.00" rx="4.00" fill="#4a4a4a" fill-opacity="1.0" filter="url(#bl2)"/>
<rect x="78.30" y="359.50" width="10.00" height="4.00" rx="2.00" fill="#7a7a7a" fill-opacity="1.0" filter="url(#bl2)"/>
<rect x="93.00" y="359.75" width="9.00" height="3.50" rx="1.75" fill="#8f8f8f" fill-opacity="1.0" filter="url(#bl2)"/>
<rect x="106.45" y="358.05" width="10.50" height="8.50" rx="4.25" fill="#262626" fill-opacity="1.0" filter="url(#bl2)"/>
<rect x="121.40" y="359.05" width="9.00" height="5.50" rx="2.75" fill="#5a5a5a" fill-opacity="1.0" filter="url(#bl2)"/>
<rect x="21.00" y="378.20" width="110.50" height="5.40" fill="#151515" filter="url(#bl1)"/>
<rect x="19.20" y="376.00" width="14.60" height="9.20" rx="4.60" fill="#0a0a0a" fill-opacity="1.0" filter="url(#bl1)"/>
<rect x="33.40" y="376.00" width="14.60" height="9.20" rx="4.60" fill="#0a0a0a" fill-opacity="1.0" filter="url(#bl1)"/>
<rect x="47.60" y="376.00" width="14.60" height="9.20" rx="4.60" fill="#0a0a0a" fill-opacity="1.0" filter="url(#bl1)"/>
<rect x="61.80" y="376.00" width="14.60" height="9.20" rx="4.60" fill="#0a0a0a" fill-opacity="1.0" filter="url(#bl1)"/>
<rect x="76.00" y="376.00" width="14.60" height="9.20" rx="4.60" fill="#0a0a0a" fill-opacity="1.0" filter="url(#bl1)"/>
<rect x="90.20" y="376.00" width="14.60" height="9.20" rx="4.60" fill="#0a0a0a" fill-opacity="1.0" filter="url(#bl1)"/>
<rect x="104.40" y="375.35" width="14.60" height="10.50" rx="5.25" fill="#0a0a0a" fill-opacity="1.0" filter="url(#bl1)"/>
<rect x="118.60" y="376.00" width="14.60" height="9.20" rx="4.60" fill="#0a0a0a" fill-opacity="1.0" filter="url(#bl1)"/>
<rect x="20.75" y="392.80" width="11.50" height="2.80" rx="1.40" fill="#262626" fill-opacity="1.0" filter="url(#bl1)"/>
<rect x="35.20" y="393.10" width="11.00" height="2.60" rx="1.30" fill="#333" fill-opacity="1.0" filter="url(#bl1)"/>
<rect x="49.15" y="393.20" width="11.50" height="2.80" rx="1.40" fill="#262626" fill-opacity="1.0" filter="url(#bl1)"/>
<rect x="63.35" y="393.30" width="11.50" height="2.60" rx="1.30" fill="#333" fill-opacity="1.0" filter="url(#bl1)"/>
<rect x="77.55" y="392.90" width="11.50" height="3.00" rx="1.50" fill="#222" fill-opacity="1.0" filter="url(#bl1)"/>
<rect x="92.00" y="393.10" width="11.00" height="2.60" rx="1.30" fill="#2a2a2a" fill-opacity="1.0" filter="url(#bl1)"/>
<rect x="105.95" y="392.80" width="11.50" height="3.20" rx="1.60" fill="#1a1a1a" fill-opacity="1.0" filter="url(#bl1)"/>
<rect x="120.15" y="392.90" width="11.50" height="3.00" rx="1.50" fill="#1e1e1e" fill-opacity="1.0" filter="url(#bl1)"/>
<text x="136.10" y="322.45" font-size="7.3" text-anchor="start" fill="#333" textLength="13.1" lengthAdjust="spacingAndGlyphs">HK2</text>
<text x="136.10" y="335.75" font-size="7.3" text-anchor="start" fill="#333" textLength="18.4" lengthAdjust="spacingAndGlyphs">G6PD</text>
<text x="136.10" y="348.65" font-size="7.3" text-anchor="start" fill="#333" textLength="21.7" lengthAdjust="spacingAndGlyphs">CPT1A</text>
<text x="136.10" y="364.65" font-size="7.3" text-anchor="start" fill="#333" textLength="21.4" lengthAdjust="spacingAndGlyphs">GLUT3</text>
<text x="136.10" y="382.75" font-size="7.3" text-anchor="start" fill="#333" textLength="13.7" lengthAdjust="spacingAndGlyphs">LDH</text>
<text x="136.10" y="396.85" font-size="7.3" text-anchor="start" fill="#333" textLength="24.8" lengthAdjust="spacingAndGlyphs">GAPDH</text>
<rect x="238.00" y="352.80" width="8.80" height="36.00" fill="#b6bcdc"/>
<rect x="250.80" y="332.70" width="8.70" height="56.10" fill="#6a7db5"/>
<rect x="264.20" y="348.80" width="8.50" height="40.00" fill="#f2c4b9"/>
<rect x="277.30" y="354.20" width="8.50" height="34.60" fill="#df7b6c"/>
<rect x="290.50" y="355.80" width="8.30" height="33.00" fill="#f2c4b9"/>
<rect x="302.70" y="350.50" width="8.50" height="38.30" fill="#df7b6c"/>
<line x1="233.50" y1="303.40" x2="233.50" y2="389.40" stroke="#222" stroke-width="1.3"/>
<line x1="232.90" y1="388.80" x2="315.40" y2="388.80" stroke="#222" stroke-width="1.3"/>
<line x1="230.20" y1="306.20" x2="233.50" y2="306.20" stroke="#222" stroke-width="1"/>
<text x="228.30" y="308.70" font-size="7.2" text-anchor="end" fill="#444" textLength="8.4" lengthAdjust="spacingAndGlyphs">2.0</text>
<line x1="230.20" y1="326.90" x2="233.50" y2="326.90" stroke="#222" stroke-width="1"/>
<text x="228.30" y="329.40" font-size="7.2" text-anchor="end" fill="#444" textLength="8.4" lengthAdjust="spacingAndGlyphs">1.5</text>
<line x1="230.20" y1="347.40" x2="233.50" y2="347.40" stroke="#222" stroke-width="1"/>
<text x="228.30" y="349.90" font-size="7.2" text-anchor="end" fill="#444" textLength="8.4" lengthAdjust="spacingAndGlyphs">1.0</text>
<line x1="230.20" y1="368.00" x2="233.50" y2="368.00" stroke="#222" stroke-width="1"/>
<text x="228.30" y="370.50" font-size="7.2" text-anchor="end" fill="#444" textLength="8.4" lengthAdjust="spacingAndGlyphs">0.5</text>
<line x1="230.20" y1="388.80" x2="233.50" y2="388.80" stroke="#222" stroke-width="1"/>
<text x="228.30" y="391.30" font-size="7.2" text-anchor="end" fill="#444" textLength="8.4" lengthAdjust="spacingAndGlyphs">0.0</text>
<line x1="242.40" y1="388.80" x2="242.40" y2="391.80" stroke="#222" stroke-width="1"/>
<line x1="255.15" y1="388.80" x2="255.15" y2="391.80" stroke="#222" stroke-width="1"/>
<line x1="268.45" y1="388.80" x2="268.45" y2="391.80" stroke="#222" stroke-width="1"/>
<line x1="281.55" y1="388.80" x2="281.55" y2="391.80" stroke="#222" stroke-width="1"/>
<line x1="294.65" y1="388.80" x2="294.65" y2="391.80" stroke="#222" stroke-width="1"/>
<line x1="306.95" y1="388.80" x2="306.95" y2="391.80" stroke="#222" stroke-width="1"/>
<text x="249.20" y="400.30" font-size="7" text-anchor="middle" fill="#333">HC</text>
<text x="275.00" y="400.30" font-size="7" text-anchor="middle" fill="#333">P1</text>
<text x="300.40" y="400.30" font-size="7" text-anchor="middle" fill="#333">P2</text>
<text x="211.80" y="346.50" font-size="9.2" text-anchor="middle" fill="#333" textLength="90" lengthAdjust="spacingAndGlyphs" transform="rotate(-90 211.80 346.50)">HK2 normalized to GAPDH</text>
<line x1="238.00" y1="322.20" x2="255.40" y2="322.20" stroke="#555" stroke-width="1.4"/>
<text x="249.00" y="320.90" font-size="6.6" text-anchor="middle" fill="#444" textLength="28.9" lengthAdjust="spacingAndGlyphs"><tspan font-style='italic'>P</tspan> = .0062</text>
<line x1="255.40" y1="311.20" x2="283.50" y2="311.20" stroke="#555" stroke-width="1.4"/>
<text x="271.80" y="309.90" font-size="6.6" text-anchor="middle" fill="#444" textLength="24.7" lengthAdjust="spacingAndGlyphs"><tspan font-style='italic'>P</tspan> = .008</text>
<line x1="255.40" y1="302.00" x2="308.00" y2="302.00" stroke="#555" stroke-width="1.4"/>
<text x="283.10" y="300.70" font-size="6.6" text-anchor="middle" fill="#444" textLength="25.4" lengthAdjust="spacingAndGlyphs"><tspan font-style='italic'>P</tspan> = .027</text>
<line x1="268.00" y1="338.00" x2="268.00" y2="357.60" stroke="#555" stroke-width="0.9"/>
<line x1="266.20" y1="338.00" x2="269.80" y2="338.00" stroke="#555" stroke-width="0.9"/>
<line x1="266.20" y1="357.60" x2="269.80" y2="357.60" stroke="#555" stroke-width="0.9"/>
<circle cx="268.00" cy="338.00" r="2.2" fill="#8e1a2e"/>
<circle cx="268.00" cy="350.50" r="2.2" fill="#8e1a2e"/>
<circle cx="268.00" cy="357.60" r="2.2" fill="#8e1a2e"/>
<line x1="281.50" y1="342.00" x2="281.50" y2="361.00" stroke="#555" stroke-width="0.9"/>
<line x1="279.70" y1="342.00" x2="283.30" y2="342.00" stroke="#555" stroke-width="0.9"/>
<line x1="279.70" y1="361.00" x2="283.30" y2="361.00" stroke="#555" stroke-width="0.9"/>
<rect x="279.40" y="339.90" width="4.20" height="4.20" fill="#8e1a2e"/>
<line x1="294.50" y1="343.50" x2="294.50" y2="368.50" stroke="#555" stroke-width="0.9"/>
<line x1="292.70" y1="343.50" x2="296.30" y2="343.50" stroke="#555" stroke-width="0.9"/>
<line x1="292.70" y1="368.50" x2="296.30" y2="368.50" stroke="#555" stroke-width="0.9"/>
<circle cx="294.50" cy="343.50" r="2.2" fill="#8e1a2e"/>
<circle cx="294.50" cy="354.20" r="2.2" fill="#8e1a2e"/>
<circle cx="294.50" cy="368.50" r="2.2" fill="#8e1a2e"/>
<line x1="306.80" y1="339.60" x2="306.80" y2="362.00" stroke="#555" stroke-width="0.9"/>
<line x1="305.00" y1="339.60" x2="308.60" y2="339.60" stroke="#555" stroke-width="0.9"/>
<line x1="305.00" y1="362.00" x2="308.60" y2="362.00" stroke="#555" stroke-width="0.9"/>
<circle cx="306.80" cy="339.60" r="2.2" fill="#8e1a2e"/>
<circle cx="306.80" cy="348.80" r="2.2" fill="#8e1a2e"/>
<circle cx="306.80" cy="362.00" r="2.2" fill="#8e1a2e"/>
<path d="M242.20 336.72L244.60 340.71L239.80 340.71Z" fill="#1d3658"/>
<path d="M239.20 343.72L241.60 347.71L236.80 347.71Z" fill="#1d3658"/>
<path d="M242.20 343.72L244.60 347.71L239.80 347.71Z" fill="#1d3658"/>
<path d="M245.00 344.22L247.40 348.21L242.60 348.21Z" fill="#1d3658"/>
<path d="M239.20 348.92L241.60 352.91L236.80 352.91Z" fill="#1d3658"/>
<path d="M245.00 350.02L247.40 354.01L242.60 354.01Z" fill="#1d3658"/>
<path d="M242.20 362.72L244.60 366.71L239.80 366.71Z" fill="#1d3658"/>
<line x1="242.40" y1="344.00" x2="242.40" y2="360.00" stroke="#333" stroke-width="0.9"/>
<line x1="240.60" y1="344.00" x2="244.20" y2="344.00" stroke="#333" stroke-width="0.9"/>
<line x1="240.60" y1="360.00" x2="244.20" y2="360.00" stroke="#333" stroke-width="0.9"/>
<path d="M255.00 324.72L257.40 328.71L252.60 328.71Z" fill="#1d3658"/>
<path d="M253.00 330.42L255.40 334.41L250.60 334.41Z" fill="#1d3658"/>
<path d="M256.50 330.42L258.90 334.41L254.10 334.41Z" fill="#1d3658"/>
<path d="M255.00 337.32L257.40 341.31L252.60 341.31Z" fill="#1d3658"/>
<rect x="276.90" y="358.90" width="4.20" height="4.20" fill="#8e1a2e"/>
<rect x="281.50" y="357.10" width="4.20" height="4.20" fill="#8e1a2e"/>
<circle cx="281.20" cy="357.50" r="2.0" fill="#8e1a2e"/>
<rect x="393.50" y="360.40" width="9.20" height="28.40" fill="#b6bcdc"/>
<rect x="406.60" y="351.80" width="8.80" height="37.00" fill="#6a7db5"/>
<rect x="419.50" y="341.20" width="8.50" height="47.60" fill="#f2c4b9"/>
<rect x="432.70" y="338.00" width="8.50" height="50.80" fill="#df7b6c"/>
<rect x="445.40" y="339.20" width="8.80" height="49.60" fill="#f2c4b9"/>
<rect x="458.00" y="338.00" width="9.30" height="50.80" fill="#df7b6c"/>
<line x1="389.50" y1="303.40" x2="389.50" y2="389.40" stroke="#222" stroke-width="1.3"/>
<line x1="388.90" y1="388.80" x2="469.60" y2="388.80" stroke="#222" stroke-width="1.3"/>
<line x1="386.20" y1="306.20" x2="389.50" y2="306.20" stroke="#222" stroke-width="1"/>
<text x="384.30" y="308.70" font-size="7.2" text-anchor="end" fill="#444" textLength="8.4" lengthAdjust="spacingAndGlyphs">2.0</text>
<line x1="386.20" y1="326.90" x2="389.50" y2="326.90" stroke="#222" stroke-width="1"/>
<text x="384.30" y="329.40" font-size="7.2" text-anchor="end" fill="#444" textLength="8.4" lengthAdjust="spacingAndGlyphs">1.5</text>
<line x1="386.20" y1="347.40" x2="389.50" y2="347.40" stroke="#222" stroke-width="1"/>
<text x="384.30" y="349.90" font-size="7.2" text-anchor="end" fill="#444" textLength="8.4" lengthAdjust="spacingAndGlyphs">1.0</text>
<line x1="386.20" y1="368.00" x2="389.50" y2="368.00" stroke="#222" stroke-width="1"/>
<text x="384.30" y="370.50" font-size="7.2" text-anchor="end" fill="#444" textLength="8.4" lengthAdjust="spacingAndGlyphs">0.5</text>
<line x1="386.20" y1="388.80" x2="389.50" y2="388.80" stroke="#222" stroke-width="1"/>
<text x="384.30" y="391.30" font-size="7.2" text-anchor="end" fill="#444" textLength="8.4" lengthAdjust="spacingAndGlyphs">0.0</text>
<line x1="398.10" y1="388.80" x2="398.10" y2="391.80" stroke="#222" stroke-width="1"/>
<line x1="411.00" y1="388.80" x2="411.00" y2="391.80" stroke="#222" stroke-width="1"/>
<line x1="423.75" y1="388.80" x2="423.75" y2="391.80" stroke="#222" stroke-width="1"/>
<line x1="436.95" y1="388.80" x2="436.95" y2="391.80" stroke="#222" stroke-width="1"/>
<line x1="449.80" y1="388.80" x2="449.80" y2="391.80" stroke="#222" stroke-width="1"/>
<line x1="462.65" y1="388.80" x2="462.65" y2="391.80" stroke="#222" stroke-width="1"/>
<text x="405.70" y="400.30" font-size="7" text-anchor="middle" fill="#333">HC</text>
<text x="432.00" y="400.30" font-size="7" text-anchor="middle" fill="#333">P1</text>
<text x="456.50" y="400.30" font-size="7" text-anchor="middle" fill="#333">P2</text>
<text x="366.80" y="346.50" font-size="9.2" text-anchor="middle" fill="#333" textLength="90" lengthAdjust="spacingAndGlyphs" transform="rotate(-90 366.80 346.50)">CPT1A normalized to GAPDH</text>
<line x1="407.30" y1="318.80" x2="436.20" y2="318.80" stroke="#555" stroke-width="1.4"/>
<text x="422.90" y="317.50" font-size="6.6" text-anchor="middle" fill="#444" textLength="21.8" lengthAdjust="spacingAndGlyphs"><tspan font-style='italic'>P</tspan> = .06</text>
<line x1="409.00" y1="308.50" x2="462.70" y2="308.50" stroke="#555" stroke-width="1.4"/>
<text x="439.40" y="307.20" font-size="6.6" text-anchor="middle" fill="#444" textLength="21.2" lengthAdjust="spacingAndGlyphs"><tspan font-style='italic'>P</tspan> = .03</text>
<line x1="423.70" y1="329.20" x2="423.70" y2="355.00" stroke="#555" stroke-width="0.9"/>
<line x1="421.90" y1="329.20" x2="425.50" y2="329.20" stroke="#555" stroke-width="0.9"/>
<line x1="421.90" y1="355.00" x2="425.50" y2="355.00" stroke="#555" stroke-width="0.9"/>
<circle cx="423.70" cy="329.20" r="2.2" fill="#8e1a2e"/>
<circle cx="423.70" cy="338.90" r="2.2" fill="#8e1a2e"/>
<circle cx="423.70" cy="355.00" r="2.2" fill="#8e1a2e"/>
<line x1="436.90" y1="332.00" x2="436.90" y2="345.00" stroke="#555" stroke-width="0.9"/>
<line x1="435.10" y1="332.00" x2="438.70" y2="332.00" stroke="#555" stroke-width="0.9"/>
<line x1="435.10" y1="345.00" x2="438.70" y2="345.00" stroke="#555" stroke-width="0.9"/>
<rect x="434.80" y="329.90" width="4.20" height="4.20" fill="#8e1a2e"/>
<rect x="434.80" y="336.80" width="4.20" height="4.20" fill="#8e1a2e"/>
<rect x="434.80" y="342.90" width="4.20" height="4.20" fill="#8e1a2e"/>
<line x1="449.80" y1="323.00" x2="449.80" y2="357.40" stroke="#555" stroke-width="0.9"/>
<line x1="448.00" y1="323.00" x2="451.60" y2="323.00" stroke="#555" stroke-width="0.9"/>
<line x1="448.00" y1="357.40" x2="451.60" y2="357.40" stroke="#555" stroke-width="0.9"/>
<circle cx="449.80" cy="327.00" r="2.2" fill="#8e1a2e"/>
<circle cx="449.80" cy="332.70" r="2.2" fill="#8e1a2e"/>
<circle cx="449.80" cy="357.40" r="2.2" fill="#8e1a2e"/>
<line x1="462.60" y1="321.60" x2="462.60" y2="355.80" stroke="#555" stroke-width="0.9"/>
<line x1="460.80" y1="321.60" x2="464.40" y2="321.60" stroke="#555" stroke-width="0.9"/>
<line x1="460.80" y1="355.80" x2="464.40" y2="355.80" stroke="#555" stroke-width="0.9"/>
<circle cx="462.60" cy="325.00" r="2.2" fill="#8e1a2e"/>
<circle cx="462.60" cy="332.00" r="2.2" fill="#8e1a2e"/>
<circle cx="462.60" cy="355.80" r="2.2" fill="#8e1a2e"/>
<path d="M394.60 348.92L397.00 352.91L392.20 352.91Z" fill="#1d3658"/>
<path d="M398.00 348.22L400.40 352.21L395.60 352.21Z" fill="#1d3658"/>
<path d="M401.00 349.52L403.40 353.51L398.60 353.51Z" fill="#1d3658"/>
<path d="M398.00 358.12L400.40 362.11L395.60 362.11Z" fill="#1d3658"/>
<path d="M395.80 361.12L398.20 365.11L393.40 365.11Z" fill="#1d3658"/>
<path d="M398.00 375.42L400.40 379.41L395.60 379.41Z" fill="#1d3658"/>
<line x1="398.00" y1="354.00" x2="398.00" y2="367.00" stroke="#333" stroke-width="0.9"/>
<line x1="396.20" y1="354.00" x2="399.80" y2="354.00" stroke="#333" stroke-width="0.9"/>
<line x1="396.20" y1="367.00" x2="399.80" y2="367.00" stroke="#333" stroke-width="0.9"/>
<path d="M410.80 341.92L413.20 345.91L408.40 345.91Z" fill="#1d3658"/>
<path d="M408.50 348.22L410.90 352.21L406.10 352.21Z" fill="#1d3658"/>
<path d="M413.00 348.22L415.40 352.21L410.60 352.21Z" fill="#1d3658"/>
<path d="M410.80 353.52L413.20 357.51L408.40 357.51Z" fill="#1d3658"/>
<path d="M410.80 361.12L413.20 365.11L408.40 365.11Z" fill="#1d3658"/>
<line x1="411.00" y1="346.00" x2="411.00" y2="358.00" stroke="#333" stroke-width="0.9"/>
<line x1="409.20" y1="346.00" x2="412.80" y2="346.00" stroke="#333" stroke-width="0.9"/>
<line x1="409.20" y1="358.00" x2="412.80" y2="358.00" stroke="#333" stroke-width="0.9"/>
<text x="321.00" y="413.70" font-size="7.3" text-anchor="end" fill="#333" textLength="42" lengthAdjust="spacingAndGlyphs">Unstimulated</text>
<text x="321.00" y="431.10" font-size="7.3" text-anchor="end" fill="#333" textLength="34.5" lengthAdjust="spacingAndGlyphs">CD3/CD28</text>
<rect x="323.80" y="406.50" width="13.90" height="8.50" fill="#b9bedc"/>
<rect x="342.80" y="406.50" width="14.00" height="8.50" fill="#f0c2b8"/>
<rect x="323.80" y="423.40" width="13.90" height="8.60" fill="#6e80b6"/>
<rect x="342.80" y="423.40" width="14.00" height="8.60" fill="#e07b6d"/>
<path d="M367.70 407.71L369.90 411.37L365.50 411.37Z" fill="#1d3658"/>
<rect x="365.80" y="416.30" width="3.80" height="3.80" fill="#8e1a2e"/>
<circle cx="367.70" cy="428.50" r="2" fill="#8e1a2e"/>
<text x="373.30" y="411.60" font-size="6.5" text-anchor="start" fill="#333">HC</text>
<text x="373.30" y="420.40" font-size="6.5" text-anchor="start" fill="#333">P1</text>
<text x="373.30" y="430.70" font-size="6.5" text-anchor="start" fill="#333">P2</text>
<text x="7.60" y="446.20" font-size="12" text-anchor="start" fill="#111" font-weight="bold">D</text>
<defs><filter id="mb" x="-10%" y="-50%" width="120%" height="200%"><feGaussianBlur stdDeviation="0.8"/></filter></defs>
<path d="M30 462.1 Q68 470.5 108 462.8" fill="none" stroke="#d9d9d9" stroke-width="3.2" filter="url(#mb)"/>
<path d="M30 470.6 Q68 477 108 469" fill="none" stroke="#d9d9d9" stroke-width="3.2" filter="url(#mb)"/>
<path d="M134 468.5 Q150 467 164 465" fill="none" stroke="#d9d9d9" stroke-width="3.2" filter="url(#mb)"/>
<path d="M134 476.3 Q150 475 164 473.6" fill="none" stroke="#d9d9d9" stroke-width="3.2" filter="url(#mb)"/>
<path d="M50 472.6 Q68 476 92 472.6" fill="none" stroke="#b9b9b9" stroke-width="0.8" filter="url(#mb)"/>
<path d="M112.3 460.7 Q111.2 462 111.5 463.4 Q111.5 466 111.9 468 Q112.6 470 113.5 471.1 Q114.6 472.4 114.2 473.4 Q113.4 475.5 113.8 477.2 Q114.2 479.5 115 480.3 Q116 481.4 117.3 481.5 L129.6 481.2 Q130.8 479.5 130.8 477.2 Q130.2 475.5 130.4 474.2 Q131 472.5 131.9 471.1 Q133.2 470 133.5 468 Q134.2 465.5 133.8 463.4 Q133.6 461.5 132.7 460.7 Q131.5 459.6 129.6 459.5 Q126 460 123.5 462.6 Q121 460 117.3 459.5 Q114 459.5 112.3 460.7Z" fill="#e3d6ee" stroke="#6a6a6a" stroke-width="0.55"/>
<path d="M120.4 465.7 Q119.8 473 121 481.2 M126.4 465.7 Q127.2 473 126 481.2" fill="none" stroke="#8a7a8a" stroke-width="0.45"/>
<circle cx="116.5" cy="458.4" r="2.5" fill="#f3d2cb" stroke="#9a6a6a" stroke-width="0.5"/>
<circle cx="120.4" cy="455.0" r="2.9" fill="#f3d2cb" stroke="#9a6a6a" stroke-width="0.5"/>
<circle cx="125.4" cy="456.5" r="2.7" fill="#f3d2cb" stroke="#9a6a6a" stroke-width="0.5"/>
<circle cx="122.8" cy="459.0" r="2.0" fill="#f3d2cb" stroke="#9a6a6a" stroke-width="0.5"/>
<line x1="123.60" y1="462.50" x2="123.60" y2="482.50" stroke="#111" stroke-width="1.6"/>
<path d="M118.8 481.6 L128.5 481.6 L123.6 493.4Z" fill="#111"/>
<text x="144.40" y="488.80" font-size="7" text-anchor="start" fill="#1a1a1a" font-weight="bold" textLength="41.2" lengthAdjust="spacingAndGlyphs">GLYCOLYSIS</text>
<text x="20.50" y="500.00" font-size="7" text-anchor="start" fill="#1a1a1a" font-weight="bold" textLength="75.7" lengthAdjust="spacingAndGlyphs">PENTOSE-PHOSPHATE</text>
<text x="41.20" y="507.50" font-size="7" text-anchor="start" fill="#1a1a1a" font-weight="bold" textLength="33.8" lengthAdjust="spacingAndGlyphs">PATHWAY</text>
<text x="117.50" y="502.20" font-size="7" text-anchor="start" fill="#111" font-weight="bold" textLength="25.5" lengthAdjust="spacingAndGlyphs">Glucose</text>
<line x1="112.00" y1="505.50" x2="112.00" y2="499.50" stroke="#111" stroke-width="1.3"/>
<path d="M110.20 500.58L113.80 500.58L112.00 496.80Z" fill="#111"/>
<path d="M121.6 506.8 Q124.2 510.5 126.9 514.2 M126.9 506.8 Q124.2 510.5 121.6 514.2" fill="none" stroke="#1a1a1a" stroke-width="1.1"/>
<line x1="124.20" y1="505.50" x2="124.20" y2="508.50" stroke="#222" stroke-width="0.7"/>
<line x1="121.50" y1="511.40" x2="90.50" y2="511.40" stroke="#333" stroke-width="0.7"/>
<path d="M88.6 511.4 L91.4 510.3 L91.4 512.5Z" fill="#333"/>
<text x="29.50" y="515.05" font-size="7.0" text-anchor="start" fill="#3a3a3a" textLength="58.0" lengthAdjust="spacingAndGlyphs">6P-gluconolactone</text>
<text x="112.00" y="522.65" font-size="7.0" text-anchor="start" fill="#3a3a3a" textLength="36.5" lengthAdjust="spacingAndGlyphs">Glucose-6P</text>
<line x1="152.60" y1="516.50" x2="152.60" y2="521.25" stroke="#111" stroke-width="1.2"/>
<path d="M150.90 520.23L154.30 520.23L152.60 523.80Z" fill="#111"/>
<line x1="124.20" y1="524.60" x2="124.20" y2="528.68" stroke="#333" stroke-width="0.7"/>
<path d="M123.10 528.24L125.30 528.24L124.20 530.00Z" fill="#333"/>
<text x="110.80" y="536.75" font-size="7.0" text-anchor="start" fill="#3a3a3a" textLength="37.7" lengthAdjust="spacingAndGlyphs">Fructose-6P</text>
<line x1="152.60" y1="530.80" x2="152.60" y2="535.45" stroke="#111" stroke-width="1.2"/>
<path d="M150.90 534.43L154.30 534.43L152.60 538.00Z" fill="#111"/>
<line x1="124.50" y1="539.40" x2="124.50" y2="543.68" stroke="#333" stroke-width="0.7"/>
<path d="M123.40 543.24L125.60 543.24L124.50 545.00Z" fill="#333"/>
<text x="106.30" y="552.85" font-size="7.0" text-anchor="start" fill="#3a3a3a" textLength="52.7" lengthAdjust="spacingAndGlyphs">Fructose-1, 6-biP</text>
<line x1="127.40" y1="552.60" x2="108.70" y2="560.40" stroke="#333" stroke-width="0.7"/>
<line x1="127.40" y1="552.60" x2="137.50" y2="559.80" stroke="#333" stroke-width="0.7"/>
<text x="103.50" y="568.15" font-size="7.0" text-anchor="start" fill="#3a3a3a" textLength="18.1" lengthAdjust="spacingAndGlyphs">DHAP</text>
<text x="134.60" y="568.15" font-size="7.0" text-anchor="start" fill="#3a3a3a" textLength="17.4" lengthAdjust="spacingAndGlyphs">GA3P</text>
<line x1="138.40" y1="574.50" x2="138.40" y2="582.50" stroke="#333" stroke-width="0.75"/>
<path d="M138.4 578.8 Q141 575.5 144.9 573.7" fill="none" stroke="#333" stroke-width="0.75"/>
<path d="M138.4 580.4 Q140.5 583.5 143.2 584.6" fill="none" stroke="#333" stroke-width="0.75"/>
<path d="M142.6 583.2 L145.2 585.6 L141.9 585.9Z" fill="#222"/>
<line x1="138.40" y1="583.00" x2="138.40" y2="589.50" stroke="#333" stroke-width="0.75" stroke-dasharray="1.2,0.8"/>
<path d="M137.2 589 L139.6 589 L138.4 591.6Z" fill="#333"/>
<text x="152.20" y="576.10" font-size="6.8" text-anchor="start" fill="#3a3a3a">NAD<tspan font-size='4.3' dy='-2.6'>+</tspan></text>
<text x="151.00" y="586.40" font-size="6.8" text-anchor="start" fill="#3a3a3a">NADH/H<tspan font-size='4.3' dy='-2.6'>+</tspan></text>
<text x="131.70" y="597.85" font-size="7.0" text-anchor="start" fill="#3a3a3a" textLength="11.5" lengthAdjust="spacingAndGlyphs">3PG</text>
<line x1="138.40" y1="598.80" x2="138.40" y2="601.68" stroke="#333" stroke-width="0.7"/>
<path d="M137.30 601.24L139.50 601.24L138.40 603.00Z" fill="#333"/>
<text x="146.00" y="600.60" font-size="6.8" text-anchor="start" fill="#3a3a3a">NADH/H<tspan font-size='4.3' dy='-2.6'>+</tspan></text>
<text x="179.00" y="600.60" font-size="6.8" text-anchor="start" fill="#3a3a3a">NAD<tspan font-size='4.3' dy='-2.6'>+</tspan></text>
<text x="125.00" y="609.95" font-size="7.0" text-anchor="start" fill="#3a3a3a" textLength="27" lengthAdjust="spacingAndGlyphs">Pyruvate</text>
<line x1="118.80" y1="610.20" x2="118.80" y2="606.55" stroke="#111" stroke-width="1.2"/>
<path d="M117.10 607.57L120.50 607.57L118.80 604.00Z" fill="#111"/>
<rect x="157.60" y="606.40" width="28.70" height="2.70" fill="#9a9a9a"/>
<path d="M184 605.6 L187 607.75 L184 609.9Z" fill="#555"/>
<path d="M166.4 602.8 Q169 607.5 172 607 Q175 606.5 177.5 602.8" fill="none" stroke="#333" stroke-width="0.75"/>
<text x="190.80" y="609.95" font-size="7.0" text-anchor="start" fill="#3a3a3a" textLength="22.1" lengthAdjust="spacingAndGlyphs">Lactate</text>
<line x1="217.30" y1="604.40" x2="217.30" y2="607.75" stroke="#111" stroke-width="1.2"/>
<path d="M215.60 606.73L219.00 606.73L217.30 610.30Z" fill="#111"/>
<text x="37.50" y="528.15" font-size="7.0" text-anchor="start" fill="#3a3a3a" textLength="41.3" lengthAdjust="spacingAndGlyphs">6P-gluconate</text>
<line x1="58.40" y1="515.50" x2="58.40" y2="519.38" stroke="#333" stroke-width="0.7"/>
<path d="M57.30 518.94L59.50 518.94L58.40 520.70Z" fill="#333"/>
<line x1="58.20" y1="530.20" x2="58.20" y2="532.98" stroke="#333" stroke-width="0.7"/>
<path d="M57.10 532.54L59.30 532.54L58.20 534.30Z" fill="#333"/>
<text x="39.10" y="541.25" font-size="7.0" text-anchor="start" fill="#3a3a3a" textLength="38.2" lengthAdjust="spacingAndGlyphs">Ribulose-5-P</text>
<line x1="80.90" y1="537.20" x2="80.90" y2="542.05" stroke="#111" stroke-width="1.2"/>
<path d="M79.20 541.03L82.60 541.03L80.90 544.60Z" fill="#111"/>
<line x1="58.20" y1="543.30" x2="58.20" y2="546.28" stroke="#333" stroke-width="0.7"/>
<path d="M57.10 545.84L59.30 545.84L58.20 547.60Z" fill="#333"/>
<text x="41.20" y="554.15" font-size="7.0" text-anchor="start" fill="#3a3a3a" textLength="34.3" lengthAdjust="spacingAndGlyphs">Ribose-5-P</text>
<line x1="56.80" y1="557.50" x2="56.80" y2="561.32" stroke="#333" stroke-width="0.6"/>
<path d="M55.90 560.96L57.70 560.96L56.80 562.40Z" fill="#333"/>
<line x1="58.40" y1="562.40" x2="58.40" y2="558.58" stroke="#333" stroke-width="0.6"/>
<path d="M57.50 558.94L59.30 558.94L58.40 557.50Z" fill="#333"/>
<text x="28.00" y="569.05" font-size="7.0" text-anchor="start" fill="#3a3a3a" textLength="60.3" lengthAdjust="spacingAndGlyphs">Sedoheptulose-7-P</text>
<text x="27.40" y="576.15" font-size="7.0" text-anchor="start" fill="#3a3a3a" textLength="60.9" lengthAdjust="spacingAndGlyphs">Glyceraldehyde-3-P</text>
<line x1="90.40" y1="566.30" x2="90.40" y2="572.05" stroke="#111" stroke-width="1.2"/>
<path d="M88.70 571.03L92.10 571.03L90.40 574.60Z" fill="#111"/>
<line x1="56.80" y1="578.60" x2="56.80" y2="582.32" stroke="#333" stroke-width="0.6"/>
<path d="M55.90 581.96L57.70 581.96L56.80 583.40Z" fill="#333"/>
<line x1="58.40" y1="583.40" x2="58.40" y2="579.68" stroke="#333" stroke-width="0.6"/>
<path d="M57.50 580.04L59.30 580.04L58.40 578.60Z" fill="#333"/>
<text x="38.00" y="591.25" font-size="7.0" text-anchor="start" fill="#3a3a3a" textLength="42" lengthAdjust="spacingAndGlyphs">Erythrose-4-P</text>
<text x="58.00" y="596.40" font-size="6" text-anchor="middle" fill="#3a3a3a">+</text>
<text x="40.00" y="604.25" font-size="7.0" text-anchor="start" fill="#3a3a3a" textLength="39.5" lengthAdjust="spacingAndGlyphs">Fructose-6-P</text>
<defs><filter id="mt" x="-20%" y="-20%" width="140%" height="140%"><feGaussianBlur stdDeviation="1.2"/></filter></defs>
<path d="M84 660 Q84 645 93.7 639.5 Q100 633 107.5 630 Q120 625.5 135 623.7 Q150 621.2 165 621.2 Q180 621.5 191 622.5 L191 696 L112 696 Q92 690 85 672Z" fill="#eeeeee" filter="url(#mt)"/>
<path d="M95.2 636 Q110 630 134.2 634 Q136 650 120 660 Q115 664 113 672 L116 696 L121 696 L119 672 Q102 672.9 95 660 Q92.5 647 95.2 636Z" fill="#ffffff" filter="url(#mt)"/>
<path d="M119 670 Q132 662 137 650 L140 696 L118 696Z" fill="#fdfdfd" filter="url(#mt)"/>
<path d="M144 696 L145 640 Q146 629 153 629 Q160 629 161 640 L161 656 Q170 664 178 670 L179 640 Q181 630 186 631 L186 696Z" fill="#fbfbfb" filter="url(#mt)"/>
<path d="M79 655.4 Q80 642 85.8 636.5 Q92 629 102 625 Q112 622.5 122 621.7 Q135 621 145 621 Q160 618.5 175 618.7 Q184 619 191 619.3" fill="none" stroke="#444" stroke-width="0.7"/>
<path d="M79 655.4 Q79 664 81 671.5 Q85 679 91.2 685 Q99 691 108.6 694.4 L114 695.8" fill="none" stroke="#444" stroke-width="0.7"/>
<path d="M81.2 655.4 Q82 643 87.8 637.9 Q94 631.5 103.3 627.1 Q113 624.5 123.5 623.7 Q135 623 145 623 Q160 621.5 175 621.7 Q184 622 191 622.8" fill="none" stroke="#444" stroke-width="0.7"/>
<path d="M81.2 655.4 Q81.5 664 83 671.5 Q87 678 92.5 683.6 Q100 689 110 693 L114 694.4" fill="none" stroke="#444" stroke-width="0.7"/>
<line x1="138.00" y1="611.50" x2="138.00" y2="634.00" stroke="#111" stroke-width="1.6"/>
<path d="M135.5 632 L140.5 632 L138 638Z" fill="#111"/>
<text x="116.60" y="645.45" font-size="7.0" text-anchor="start" fill="#3a3a3a" textLength="26.7" lengthAdjust="spacingAndGlyphs">Pyruvate</text>
<text x="159.40" y="650.60" font-size="7.6" text-anchor="start" fill="#3a3a3a" textLength="20.8" lengthAdjust="spacingAndGlyphs">Citrate</text>
<text x="150.80" y="668.00" font-size="7.8" text-anchor="start" fill="#3a3a3a" textLength="13.6" lengthAdjust="spacingAndGlyphs">TCA</text>
<text x="149.80" y="674.80" font-size="7.8" text-anchor="start" fill="#3a3a3a" textLength="14.8" lengthAdjust="spacingAndGlyphs">cycle</text>
<path d="M139.6 648.6 Q145 652.2 152 652" fill="none" stroke="#111" stroke-width="2.3" stroke-linecap="round"/>
<path d="M142.2 659 Q144.5 654.5 151 652.6" fill="none" stroke="#111" stroke-width="2.3" stroke-linecap="round"/>
<path d="M150.2 648.2 L158.6 651.4 L151.6 656.8Z" fill="#111"/>
<path d="M166 653.6 Q172 657 173.4 662.5" fill="none" stroke="#111" stroke-width="2.3" stroke-linecap="round"/>
<path d="M169.4 662.2 L177.9 660.6 L175.6 669.6Z" fill="#111"/>
<path d="M173.2 677.4 Q170 682.4 164 684.2" fill="none" stroke="#111" stroke-width="2.3" stroke-linecap="round"/>
<path d="M164.6 680.2 L165.4 688.6 L157.4 685.4Z" fill="#111"/>
<path d="M149.6 685 Q143 681 141.8 675.5" fill="none" stroke="#111" stroke-width="2.3" stroke-linecap="round"/>
<path d="M137.4 677.2 L145.2 675.8 L140.2 669.4Z" fill="#111"/>
<text x="161.50" y="694.80" font-size="6.6" text-anchor="start" fill="#cfcfcf" textLength="49.3" lengthAdjust="spacingAndGlyphs">mitochondrion</text>
<text x="253.30" y="446.40" font-size="12" text-anchor="start" fill="#111" font-weight="bold">E</text>
<defs><linearGradient id="cb" x1="0" x2="1" y1="0" y2="0"><stop offset="0" stop-color="#ffffff"/><stop offset="0.55" stop-color="#cfd2ec"/><stop offset="0.85" stop-color="#7f88c8"/><stop offset="1" stop-color="#2d3a94"/></linearGradient></defs>
<rect x="267.4" y="453.8" width="52.2" height="3.2" fill="url(#cb)" stroke="#333" stroke-width="0.8"/>
<line x1="267.50" y1="452.70" x2="267.50" y2="457.80" stroke="#333" stroke-width="0.9"/>
<line x1="279.30" y1="452.70" x2="279.30" y2="457.80" stroke="#333" stroke-width="0.9"/>
<line x1="291.50" y1="452.70" x2="291.50" y2="457.80" stroke="#333" stroke-width="0.9"/>
<line x1="303.60" y1="452.70" x2="303.60" y2="457.80" stroke="#333" stroke-width="0.9"/>
<line x1="315.50" y1="452.70" x2="315.50" y2="457.80" stroke="#333" stroke-width="0.9"/>
<text x="268.20" y="467.40" font-size="7.6" text-anchor="start" fill="#333" textLength="3.4" lengthAdjust="spacingAndGlyphs">0</text>
<text x="276.60" y="467.40" font-size="7.6" text-anchor="start" fill="#333" textLength="10.3" lengthAdjust="spacingAndGlyphs">0.5</text>
<text x="288.20" y="467.40" font-size="7.6" text-anchor="start" fill="#333" textLength="10.2" lengthAdjust="spacingAndGlyphs">1.0</text>
<text x="299.80" y="467.40" font-size="7.6" text-anchor="start" fill="#333" textLength="9.4" lengthAdjust="spacingAndGlyphs">1.5</text>
<text x="310.80" y="467.40" font-size="7.6" text-anchor="start" fill="#333" textLength="9.8" lengthAdjust="spacingAndGlyphs">2.0</text>
<rect x="268.30" y="472.30" width="13.13" height="7.54" fill="#747fc5"/>
<rect x="281.13" y="472.30" width="13.13" height="7.54" fill="#747fc5"/>
<rect x="293.96" y="472.30" width="13.13" height="7.54" fill="#2a4ab0"/>
<rect x="306.79" y="472.30" width="13.13" height="7.54" fill="#3352b2"/>
<line x1="320.12" y1="475.92" x2="323.12" y2="475.92" stroke="#222" stroke-width="1"/>
<text x="326.70" y="478.42" font-size="7.5" text-anchor="start" fill="#2a2a2a" textLength="23.9" lengthAdjust="spacingAndGlyphs">Hexose</text>
<rect x="268.30" y="479.54" width="13.13" height="7.54" fill="#6574bf"/>
<rect x="281.13" y="479.54" width="13.13" height="7.54" fill="#868dc8"/>
<rect x="293.96" y="479.54" width="13.13" height="7.54" fill="#c8cce8"/>
<rect x="306.79" y="479.54" width="13.13" height="7.54" fill="#9ba0d0"/>
<line x1="320.12" y1="483.16" x2="323.12" y2="483.16" stroke="#222" stroke-width="1"/>
<text x="326.70" y="485.66" font-size="7.5" text-anchor="start" fill="#2a2a2a" textLength="65.06" lengthAdjust="spacingAndGlyphs">Hexose 1-phosphate</text>
<rect x="268.30" y="486.78" width="13.13" height="7.54" fill="#6574bf"/>
<rect x="281.13" y="486.78" width="13.13" height="7.54" fill="#868dc8"/>
<rect x="293.96" y="486.78" width="13.13" height="7.54" fill="#c8cce8"/>
<rect x="306.79" y="486.78" width="13.13" height="7.54" fill="#9ba0d0"/>
<line x1="320.12" y1="490.40" x2="323.12" y2="490.40" stroke="#222" stroke-width="1"/>
<text x="326.70" y="492.90" font-size="7.5" text-anchor="start" fill="#2a2a2a" textLength="65.06" lengthAdjust="spacingAndGlyphs">Hexose 6-phosphate</text>
<rect x="268.30" y="494.02" width="13.13" height="7.54" fill="#2c49aa"/>
<rect x="281.13" y="494.02" width="13.13" height="7.54" fill="#c9cce9"/>
<rect x="293.96" y="494.02" width="13.13" height="7.54" fill="#d6d9ee"/>
<rect x="306.79" y="494.02" width="13.13" height="7.54" fill="#d6d9ee"/>
<line x1="320.12" y1="497.64" x2="323.12" y2="497.64" stroke="#222" stroke-width="1"/>
<text x="326.70" y="500.14" font-size="7.5" text-anchor="start" fill="#2a2a2a" textLength="81.91" lengthAdjust="spacingAndGlyphs">Fructose 1, 6-biphosphate</text>
<rect x="268.30" y="501.26" width="13.13" height="7.54" fill="#747fc5"/>
<rect x="281.13" y="501.26" width="13.13" height="7.54" fill="#7379c1"/>
<rect x="293.96" y="501.26" width="13.13" height="7.54" fill="#e8e9f6"/>
<rect x="306.79" y="501.26" width="13.13" height="7.54" fill="#c8cbe8"/>
<line x1="320.12" y1="504.88" x2="323.12" y2="504.88" stroke="#222" stroke-width="1"/>
<text x="326.70" y="507.38" font-size="7.5" text-anchor="start" fill="#2a2a2a" textLength="91.32" lengthAdjust="spacingAndGlyphs">Dihydroxyacetone phosphate</text>
<rect x="268.30" y="508.50" width="13.13" height="7.54" fill="#8387c8"/>
<rect x="281.13" y="508.50" width="13.13" height="7.54" fill="#6972bc"/>
<rect x="293.96" y="508.50" width="13.13" height="7.54" fill="#e8e9f6"/>
<rect x="306.79" y="508.50" width="13.13" height="7.54" fill="#c0c4e6"/>
<line x1="320.12" y1="512.12" x2="323.12" y2="512.12" stroke="#222" stroke-width="1"/>
<text x="326.70" y="514.62" font-size="7.5" text-anchor="start" fill="#2a2a2a" textLength="78.39" lengthAdjust="spacingAndGlyphs">Phosphoenolpyruvic acid</text>
<rect x="268.30" y="515.74" width="13.13" height="7.54" fill="#8387c8"/>
<rect x="281.13" y="515.74" width="13.13" height="7.54" fill="#7881c3"/>
<rect x="293.96" y="515.74" width="13.13" height="7.54" fill="#1f46a8"/>
<rect x="306.79" y="515.74" width="13.13" height="7.54" fill="#2b4bac"/>
<line x1="320.12" y1="519.36" x2="323.12" y2="519.36" stroke="#222" stroke-width="1"/>
<text x="326.70" y="521.86" font-size="7.5" text-anchor="start" fill="#2a2a2a" textLength="38.01" lengthAdjust="spacingAndGlyphs">Pyruvic acid</text>
<rect x="268.30" y="522.98" width="13.13" height="7.54" fill="#8387c8"/>
<rect x="281.13" y="522.98" width="13.13" height="7.54" fill="#7e88c6"/>
<rect x="293.96" y="522.98" width="13.13" height="7.54" fill="#d0d4ee"/>
<rect x="306.79" y="522.98" width="13.13" height="7.54" fill="#c0c6e6"/>
<line x1="320.12" y1="526.60" x2="323.12" y2="526.60" stroke="#222" stroke-width="1"/>
<text x="326.70" y="529.10" font-size="7.5" text-anchor="start" fill="#2a2a2a" textLength="33.31" lengthAdjust="spacingAndGlyphs">Lactic acid</text>
<rect x="268.30" y="530.22" width="13.13" height="7.54" fill="#878ccb"/>
<rect x="281.13" y="530.22" width="13.13" height="7.54" fill="#757fc5"/>
<rect x="293.96" y="530.22" width="13.13" height="7.54" fill="#2c4cb0"/>
<rect x="306.79" y="530.22" width="13.13" height="7.54" fill="#3e5ab4"/>
<line x1="320.12" y1="533.84" x2="323.12" y2="533.84" stroke="#222" stroke-width="1"/>
<text x="326.70" y="536.34" font-size="7.5" text-anchor="start" fill="#2a2a2a" textLength="25.87" lengthAdjust="spacingAndGlyphs">Pentose</text>
<rect x="268.30" y="537.46" width="13.13" height="7.54" fill="#878ccb"/>
<rect x="281.13" y="537.46" width="13.13" height="7.54" fill="#757fc5"/>
<rect x="293.96" y="537.46" width="13.13" height="7.54" fill="#ffffff"/>
<rect x="306.79" y="537.46" width="13.13" height="7.54" fill="#c5c8e6"/>
<line x1="320.12" y1="541.08" x2="323.12" y2="541.08" stroke="#222" stroke-width="1"/>
<text x="326.70" y="543.58" font-size="7.5" text-anchor="start" fill="#2a2a2a" textLength="63.1" lengthAdjust="spacingAndGlyphs">Ribose 5-phosphate</text>
<rect x="268.30" y="544.70" width="13.13" height="7.54" fill="#878ccb"/>
<rect x="281.13" y="544.70" width="13.13" height="7.54" fill="#757fc5"/>
<rect x="293.96" y="544.70" width="13.13" height="7.54" fill="#ffffff"/>
<rect x="306.79" y="544.70" width="13.13" height="7.54" fill="#ffffff"/>
<line x1="320.12" y1="548.32" x2="323.12" y2="548.32" stroke="#222" stroke-width="1"/>
<text x="326.70" y="550.82" font-size="7.5" text-anchor="start" fill="#2a2a2a" textLength="88.2" lengthAdjust="spacingAndGlyphs">Sedoheptulose 7-phosphate</text>
<rect x="268.30" y="551.94" width="13.13" height="7.54" fill="#8188c8"/>
<rect x="281.13" y="551.94" width="13.13" height="7.54" fill="#8188c8"/>
<rect x="293.96" y="551.94" width="13.13" height="7.54" fill="#ffffff"/>
<rect x="306.79" y="551.94" width="13.13" height="7.54" fill="#ffffff"/>
<line x1="320.12" y1="555.56" x2="323.12" y2="555.56" stroke="#222" stroke-width="1"/>
<text x="326.70" y="558.06" font-size="7.5" text-anchor="start" fill="#2a2a2a" textLength="69.77" lengthAdjust="spacingAndGlyphs">Pyridoxal 5 phosphate</text>
<rect x="268.30" y="559.18" width="13.13" height="7.54" fill="#6975bf"/>
<rect x="281.13" y="559.18" width="13.13" height="7.54" fill="#8188c8"/>
<rect x="293.96" y="559.18" width="13.13" height="7.54" fill="#eceef8"/>
<rect x="306.79" y="559.18" width="13.13" height="7.54" fill="#c4c8e8"/>
<line x1="320.12" y1="562.80" x2="323.12" y2="562.80" stroke="#222" stroke-width="1"/>
<text x="326.70" y="565.30" font-size="7.5" text-anchor="start" fill="#2a2a2a" textLength="67.81" lengthAdjust="spacingAndGlyphs">Xylulose 5-phosphate</text>
<rect x="268.30" y="566.42" width="13.13" height="7.54" fill="#838ac9"/>
<rect x="281.13" y="566.42" width="13.13" height="7.54" fill="#5566b9"/>
<rect x="293.96" y="566.42" width="13.13" height="7.54" fill="#eef0f8"/>
<rect x="306.79" y="566.42" width="13.13" height="7.54" fill="#e4e6f4"/>
<line x1="320.12" y1="570.04" x2="323.12" y2="570.04" stroke="#222" stroke-width="1"/>
<text x="326.70" y="572.54" font-size="7.5" text-anchor="start" fill="#2a2a2a" textLength="74.86" lengthAdjust="spacingAndGlyphs">Uridine monophosphate</text>
<rect x="268.30" y="573.66" width="13.13" height="7.54" fill="#838ac9"/>
<rect x="281.13" y="573.66" width="13.13" height="7.54" fill="#5f6ebd"/>
<rect x="293.96" y="573.66" width="13.13" height="7.54" fill="#8a92cd"/>
<rect x="306.79" y="573.66" width="13.13" height="7.54" fill="#7c86c8"/>
<line x1="320.12" y1="577.28" x2="323.12" y2="577.28" stroke="#222" stroke-width="1"/>
<text x="326.70" y="579.78" font-size="7.5" text-anchor="start" fill="#2a2a2a" textLength="75.26" lengthAdjust="spacingAndGlyphs">Inosine monophosphate</text>
<rect x="268.30" y="580.90" width="13.13" height="7.54" fill="#838ac9"/>
<rect x="281.13" y="580.90" width="13.13" height="7.54" fill="#5f6ebd"/>
<rect x="293.96" y="580.90" width="13.13" height="7.54" fill="#a8aedb"/>
<rect x="306.79" y="580.90" width="13.13" height="7.54" fill="#c0c4e6"/>
<line x1="320.12" y1="584.52" x2="323.12" y2="584.52" stroke="#222" stroke-width="1"/>
<text x="326.70" y="587.02" font-size="7.5" text-anchor="start" fill="#2a2a2a" textLength="85.85" lengthAdjust="spacingAndGlyphs">Adenosine monophosphate</text>
<rect x="268.30" y="588.14" width="13.13" height="7.54" fill="#989fd4"/>
<rect x="281.13" y="588.14" width="13.13" height="7.54" fill="#465ab3"/>
<rect x="293.96" y="588.14" width="13.13" height="7.54" fill="#ffffff"/>
<rect x="306.79" y="588.14" width="13.13" height="7.54" fill="#d4d7ee"/>
<line x1="320.12" y1="591.76" x2="323.12" y2="591.76" stroke="#222" stroke-width="1"/>
<text x="326.70" y="594.26" font-size="7.5" text-anchor="start" fill="#2a2a2a" textLength="65.83" lengthAdjust="spacingAndGlyphs">Argininosuccinic acid</text>
<rect x="268.30" y="595.38" width="13.13" height="7.54" fill="#757fc5"/>
<rect x="281.13" y="595.38" width="13.13" height="7.54" fill="#6874bf"/>
<rect x="293.96" y="595.38" width="13.13" height="7.54" fill="#ffffff"/>
<rect x="306.79" y="595.38" width="13.13" height="7.54" fill="#ffffff"/>
<line x1="320.12" y1="599.00" x2="323.12" y2="599.00" stroke="#222" stroke-width="1"/>
<text x="326.70" y="601.50" font-size="7.5" text-anchor="start" fill="#2a2a2a" textLength="41.14" lengthAdjust="spacingAndGlyphs">Succinic acid</text>
<rect x="268.30" y="602.62" width="13.13" height="7.54" fill="#838ac9"/>
<rect x="281.13" y="602.62" width="13.13" height="7.54" fill="#5d6cbb"/>
<rect x="293.96" y="602.62" width="13.13" height="7.54" fill="#7f88c8"/>
<rect x="306.79" y="602.62" width="13.13" height="7.54" fill="#8890cc"/>
<line x1="320.12" y1="606.24" x2="323.12" y2="606.24" stroke="#222" stroke-width="1"/>
<text x="326.70" y="608.74" font-size="7.5" text-anchor="start" fill="#2a2a2a" textLength="50.54" lengthAdjust="spacingAndGlyphs">cis-Aconitic acid</text>
<rect x="268.30" y="609.86" width="13.13" height="7.54" fill="#5d6cbb"/>
<rect x="281.13" y="609.86" width="13.13" height="7.54" fill="#878ecb"/>
<rect x="293.96" y="609.86" width="13.13" height="7.54" fill="#8f96cf"/>
<rect x="306.79" y="609.86" width="13.13" height="7.54" fill="#8f96cf"/>
<line x1="320.12" y1="613.48" x2="323.12" y2="613.48" stroke="#222" stroke-width="1"/>
<text x="326.70" y="615.98" font-size="7.5" text-anchor="start" fill="#2a2a2a" textLength="35.26" lengthAdjust="spacingAndGlyphs">Maleic acid</text>
<rect x="268.30" y="617.10" width="13.13" height="7.54" fill="#9ba1d5"/>
<rect x="281.13" y="617.10" width="13.13" height="7.54" fill="#4c62b5"/>
<rect x="293.96" y="617.10" width="13.13" height="7.54" fill="#eceef8"/>
<rect x="306.79" y="617.10" width="13.13" height="7.54" fill="#d8dbef"/>
<line x1="320.12" y1="620.72" x2="323.12" y2="620.72" stroke="#222" stroke-width="1"/>
<text x="326.70" y="623.22" font-size="7.5" text-anchor="start" fill="#2a2a2a" textLength="63.48" lengthAdjust="spacingAndGlyphs">Hydroxyglutaric acid</text>
<rect x="268.30" y="624.34" width="13.13" height="7.54" fill="#757fc5"/>
<rect x="281.13" y="624.34" width="13.13" height="7.54" fill="#757fc5"/>
<rect x="293.96" y="624.34" width="13.13" height="7.54" fill="#d0d4ee"/>
<rect x="306.79" y="624.34" width="13.13" height="7.54" fill="#b8bde2"/>
<line x1="320.12" y1="627.96" x2="323.12" y2="627.96" stroke="#222" stroke-width="1"/>
<text x="326.70" y="630.46" font-size="7.5" text-anchor="start" fill="#2a2a2a" textLength="42.71" lengthAdjust="spacingAndGlyphs">Glutamic acid</text>
<rect x="268.30" y="631.58" width="13.13" height="7.54" fill="#757fc5"/>
<rect x="281.13" y="631.58" width="13.13" height="7.54" fill="#757fc5"/>
<rect x="293.96" y="631.58" width="13.13" height="7.54" fill="#a8aedb"/>
<rect x="306.79" y="631.58" width="13.13" height="7.54" fill="#9ca2d6"/>
<line x1="320.12" y1="635.20" x2="323.12" y2="635.20" stroke="#222" stroke-width="1"/>
<text x="326.70" y="637.70" font-size="7.5" text-anchor="start" fill="#2a2a2a" textLength="67.78" lengthAdjust="spacingAndGlyphs">N-Acetylglutamic acid</text>
<rect x="268.30" y="638.82" width="13.13" height="7.54" fill="#757fc5"/>
<rect x="281.13" y="638.82" width="13.13" height="7.54" fill="#757fc5"/>
<rect x="293.96" y="638.82" width="13.13" height="7.54" fill="#c0c4e6"/>
<rect x="306.79" y="638.82" width="13.13" height="7.54" fill="#9ca2d6"/>
<line x1="320.12" y1="642.44" x2="323.12" y2="642.44" stroke="#222" stroke-width="1"/>
<text x="326.70" y="644.94" font-size="7.5" text-anchor="start" fill="#2a2a2a" textLength="40.75" lengthAdjust="spacingAndGlyphs">Aspartic Acid</text>
<rect x="268.30" y="472.30" width="51.32" height="173.76" fill="none" stroke="#1c2046" stroke-width="1.2"/>
<line x1="274.72" y1="646.06" x2="274.72" y2="649.56" stroke="#222" stroke-width="1"/>
<text x="276.62" y="655.06" font-size="7" text-anchor="end" fill="#2a2a2a" transform="rotate(-45 276.62 655.06)">HC1</text>
<line x1="287.55" y1="646.06" x2="287.55" y2="649.56" stroke="#222" stroke-width="1"/>
<text x="289.44" y="655.06" font-size="7" text-anchor="end" fill="#2a2a2a" transform="rotate(-45 289.44 655.06)">HC2</text>
<line x1="300.38" y1="646.06" x2="300.38" y2="649.56" stroke="#222" stroke-width="1"/>
<text x="302.27" y="655.06" font-size="7" text-anchor="end" fill="#2a2a2a" transform="rotate(-45 302.27 655.06)">P1</text>
<line x1="313.21" y1="646.06" x2="313.21" y2="649.56" stroke="#222" stroke-width="1"/>
<text x="315.11" y="655.06" font-size="7" text-anchor="end" fill="#2a2a2a" transform="rotate(-45 315.11 655.06)">P2</text>
</svg>
<div class="frame"></div><div class="fb"></div>
</body></html>
